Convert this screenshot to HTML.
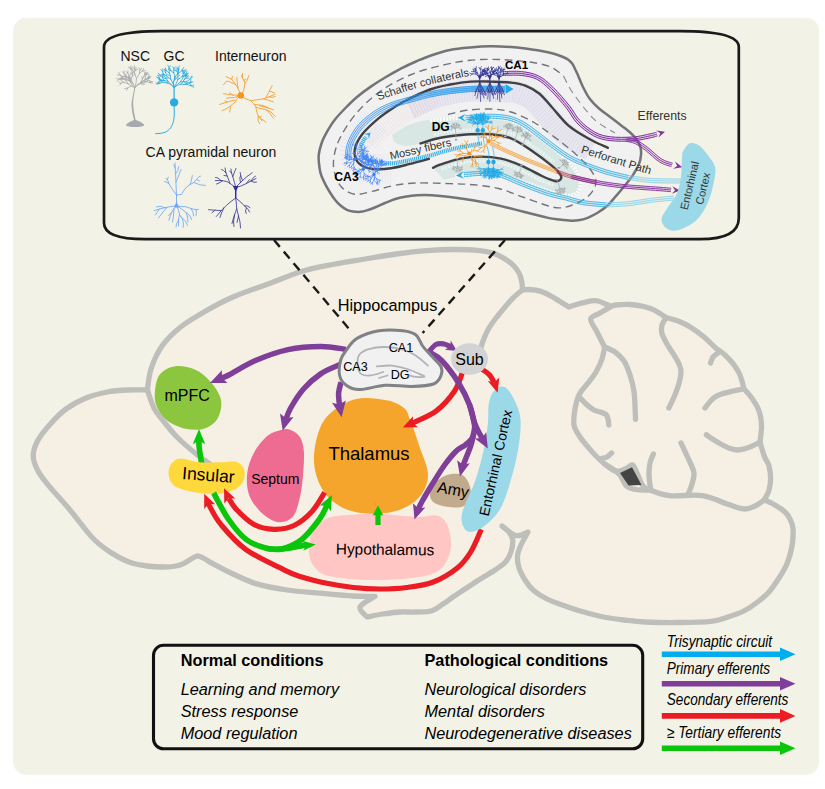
<!DOCTYPE html>
<html><head><meta charset="utf-8"><title>Hippocampal circuits</title><style>html,body{margin:0;padding:0;background:#fff;}body{width:825px;height:789px;overflow:hidden;font-family:"Liberation Sans",sans-serif;}svg{display:block;}</style></head><body>
<svg width="825" height="789" viewBox="0 0 825 789" font-family="'Liberation Sans', sans-serif"><rect x="13.2" y="17.8" width="805.8" height="757" rx="13" ry="13" fill="#f2f2e6"/>
<path d="M147.4 390C148 386.5 148.6 376.3 151 369C153.4 361.7 157.2 352.9 162 346C166.8 339.1 173 333.2 180 327.5C187 321.8 195.2 317.1 204 312C212.8 306.9 222.3 301.7 233 297C243.7 292.3 256.3 288.3 268 284C279.7 279.7 291.8 274.3 303 271C314.2 267.7 324.7 266 335 264C345.3 262 354.8 260.7 365 259C375.2 257.3 385.7 255.4 396 254C406.3 252.6 416.9 251.3 426.7 250.6C436.5 249.8 446.1 249.5 455 249.5C463.9 249.5 473.5 249.9 480 250.6C486.5 251.3 489.8 252.1 494 253.5C498.2 254.9 501.7 256.9 505 259C508.3 261.1 511.6 263.5 514 266C516.4 268.5 518.2 271.2 519.5 274C520.8 276.8 521.5 280.3 522 283C522.5 285.7 522.3 288.8 522.4 290C523.3 289.9 525.8 289.5 528 289.5C530.2 289.5 533.1 289.7 535.8 290.2C538.5 290.7 541.2 291.4 544 292.5C546.8 293.6 549.8 295.5 552.5 297C555.2 298.5 557.2 299.8 560 301.5C562.8 303.2 567.5 306.1 569 307C570.8 306.4 576.2 304.5 580 303.5C583.8 302.5 588.5 301.2 591.5 300.8C594.5 300.4 595.7 300.5 598 301C600.3 301.5 603.3 303.1 605.5 304C607.7 304.9 610.1 306.1 611 306.5C611.8 306.2 612.6 305.3 615.8 305C619 304.7 625.4 304.2 630 304.5C634.6 304.8 639.5 305.5 643.7 306.5C647.9 307.5 651.3 308.6 655 310.5C658.7 312.4 664.2 316.4 666 317.6C668 318.2 673.8 319.4 678 321C682.2 322.6 686.7 324.7 691 327.4C695.3 330.1 699.8 333.5 704 337C708.2 340.5 714 346.4 716 348.3C717.5 349.4 722.2 352.4 725 355C727.8 357.6 730.5 360.4 733 363.7C735.5 367 738.2 370.8 740 375C741.8 379.2 743.3 386.5 744 388.8C745.2 390.2 748.7 393.8 751 397C753.3 400.2 756.4 404.8 758 408.3C759.6 411.8 760.2 414.7 760.8 418C761.4 421.3 761.6 424 761.5 428C761.4 432 760.2 439.7 760 442C760.7 444.4 762.9 452.5 764.4 456.5C765.9 460.5 768 462.2 769 466C770 469.8 770.6 475 770.6 479C770.6 483 770 486.5 769 490C768 493.5 765.2 498.2 764.4 499.8C766.2 500.7 771.6 503 775 505C778.4 507 782.5 509.7 785 512C787.5 514.3 788.7 516.2 790 519C791.3 521.8 792.7 524.1 793 528.6C793.3 533.1 793 540.1 792 546C791 551.9 789.2 558.4 787 563.7C784.8 569 782.1 573.2 779 578C775.9 582.8 772.2 588.4 768.5 592.5C764.8 596.6 761.1 599.4 757 602.5C752.9 605.6 748.6 608.6 743.8 611C739 613.4 733.5 615.3 728 617C722.5 618.7 719.1 620.5 710.8 621.4C702.5 622.3 689 622.4 678 622.5C667 622.6 654 622.4 645 622C636 621.6 630.9 620.8 624 620C617.1 619.2 610.7 618.4 603.7 617C596.7 615.6 588.9 613.5 582 611.5C575.1 609.5 568.2 607.1 562.4 605C556.6 602.9 551.8 601.4 547 599C542.2 596.6 537.3 593.7 533.6 590.5C529.9 587.3 527.4 583.8 525 580C522.6 576.2 520.2 571.8 519 567.8C517.8 563.8 517.2 559.8 517.5 556C517.8 552.2 519.2 549 521 545C522.8 541 526.8 534.2 528 532C526 532.6 520.3 536.6 516 535.6C511.7 534.6 504.3 527.6 502 526C503.2 527 507.2 529.7 509 532C510.8 534.3 512.4 536.7 512.7 540C513 543.3 512.2 548.3 511 552C509.8 555.7 508.2 559 505.5 562C502.8 565 498.9 567.3 495 570C491.1 572.7 486.5 575.2 482 578C477.5 580.8 472.6 584 468 587C463.4 590 458.7 593.2 454.5 596C450.3 598.8 446.9 601.5 443 604C439.1 606.5 435.5 609.7 431 611C426.5 612.3 421.2 611.8 416 612C410.8 612.2 405.5 611.7 400 612C394.5 612.3 388.5 613.2 383 614C377.5 614.8 369.7 616.5 367 617C365.8 615.3 358.7 610.5 360 607C361.3 603.5 372.5 598.1 375 596.3C371.3 596.2 361.9 596.5 352.7 596C343.5 595.5 330.9 594.2 320 593.2C309.1 592.2 297.7 591.6 287 590C276.3 588.4 265 586.3 256 583.6C247 580.9 240.2 577.3 233 574C225.8 570.7 217.4 566.1 212.7 563.6C208 561.1 207.4 560.3 205 559C202.6 557.7 200.2 556.1 198 556C195.8 555.9 194.4 557.2 192 558.5C189.6 559.8 186.3 562.4 183.6 563.6C180.9 564.9 179 565.4 176 566C173 566.6 170.3 567 165.5 567C160.7 567 153.1 566.8 147 566C140.9 565.2 135.2 564.3 129 562C122.8 559.7 116 556 110 552C104 548 99.4 545 92.7 538C86 531 77.6 519.1 70 510C62.4 500.9 52.4 490.3 47 483.6C41.6 476.9 39.8 474.6 37.5 470C35.2 465.4 33.2 460.8 33.2 456C33.2 451.2 34.8 446.2 37.5 441C40.2 435.8 44.8 430.3 49.5 425C54.2 419.7 59.9 413.5 66 409C72.1 404.5 79.1 400.8 86 398C92.9 395.2 100.5 393.3 107.5 392C114.5 390.7 121.3 390.3 128 390C134.7 389.7 144.2 390 147.4 390Z" fill="#f5f0e3" stroke="#bebfbb" stroke-width="5.3" stroke-linejoin="round" stroke-linecap="round"/><path d="M522.4 290C520.8 291.3 515.9 295.2 513 298C510.1 300.8 507.8 303.7 505 307C502.2 310.3 498.8 314.3 496 318C493.2 321.7 490.6 325.2 488.4 329C486.2 332.8 484.4 337.2 483 341C481.6 344.8 480.5 349.8 480 351.5" fill="none" stroke="#bebfbb" stroke-width="5.3" stroke-linejoin="round" stroke-linecap="round"/><path d="M147.4 390C148.5 393 151.2 402.6 154 408C156.8 413.4 160.5 417.5 164.5 422.5C168.5 427.5 172.9 432.9 178 438C183.1 443.1 189.7 448.7 195 453C200.3 457.3 207.5 462.2 210 464" fill="none" stroke="#bebfbb" stroke-width="5.3" stroke-linejoin="round" stroke-linecap="round"/><path d="M611 306.5C609.2 307.6 603.4 310.9 600 313C596.6 315.1 591.2 315.8 590.7 319C590.2 322.2 594.7 327.3 597 332C599.3 336.7 603.3 344.5 604.6 347" fill="none" stroke="#bebfbb" stroke-width="5.3" stroke-linejoin="round" stroke-linecap="round"/><path d="M604.6 347C604.2 349 603.4 354.8 602 359C600.6 363.2 598.3 368 596 372C593.7 376 590.8 379.3 588 383C585.2 386.7 581.7 389.7 579.5 394C577.3 398.3 575.9 403.8 575 409C574.1 414.2 573.2 420.3 574 425C574.8 429.7 577.7 433.3 580 437C582.3 440.7 585.3 443.8 588 447C590.7 450.2 593.2 453.2 596 456C598.8 458.8 601.8 461.7 604.6 464C607.4 466.3 610.4 468.8 613 470C615.6 471.2 617.7 471.3 620 471C622.3 470.7 624.9 469 627 468C629.1 467 630.8 464.2 632.5 465C634.2 465.8 635.2 469.5 637 473C638.8 476.5 640.8 483.2 643 486C645.2 488.8 645.6 488.4 650 490C654.4 491.6 660.8 494.7 669.6 495.6C678.4 496.5 693 494.2 702.6 495.6C712.2 497 720.1 501.8 727 504C733.9 506.2 739.1 508.7 743.8 509C748.5 509.3 751.6 507.5 755 506C758.4 504.5 762.8 500.8 764.4 499.8" fill="none" stroke="#bebfbb" stroke-width="5.3" stroke-linejoin="round" stroke-linecap="round"/><path d="M604.6 347C606.3 347.8 611.8 349.7 615 352C618.2 354.3 621.5 357.2 624 361C626.5 364.8 628.3 369.9 630 375C631.7 380.1 633.2 386.3 634 391.5C634.8 396.7 634.8 401.4 635 406C635.2 410.6 635.4 417.2 635.5 419.4" fill="none" stroke="#bebfbb" stroke-width="5.3" stroke-linejoin="round" stroke-linecap="round"/><path d="M579.5 397C580.6 398.2 583.7 401.9 586 404C588.3 406.1 591.2 408.4 593.5 409.7C595.8 411 597.9 411.2 600 412C602.1 412.8 604.7 413.3 606 414.5C607.3 415.7 607.5 417.2 608 419C608.5 420.8 608.7 424 608.8 425" fill="none" stroke="#bebfbb" stroke-width="5.3" stroke-linejoin="round" stroke-linecap="round"/><path d="M666 317.6C665.3 318.8 662.7 322.4 662 325C661.3 327.6 661 329.8 661.8 333C662.6 336.2 665 340.3 667 344C669 347.7 672 351.7 674 355C676 358.3 677.8 361.2 679 364C680.2 366.8 681.1 368.5 681 372C680.9 375.5 679.7 380.8 678.5 385C677.3 389.2 675.6 393.2 674 397C672.4 400.8 669.7 406.2 668.8 408" fill="none" stroke="#bebfbb" stroke-width="5.3" stroke-linejoin="round" stroke-linecap="round"/><path d="M717.8 353C717 353.7 714.2 355.3 713 357C711.8 358.7 711 362 710.6 363" fill="none" stroke="#bebfbb" stroke-width="5.3" stroke-linejoin="round" stroke-linecap="round"/><path d="M744 388.8C742.2 389.2 736.7 390.1 733 391C729.3 391.9 724.7 393 721.7 394C718.7 395 716.9 395.8 715 397C713.1 398.2 712.3 399.2 710.6 401C708.9 402.8 705.9 406.8 705 408" fill="none" stroke="#bebfbb" stroke-width="5.3" stroke-linejoin="round" stroke-linecap="round"/><path d="M760 442C758.3 442.8 753.6 445.7 750 447C746.4 448.3 741.8 449.8 738.5 450C735.2 450.2 732.8 449.4 730 448.5C727.2 447.6 724.4 445.9 721.7 444.5C719 443.1 716.5 441.6 714 440C711.5 438.4 707.7 435.7 706.4 434.8" fill="none" stroke="#bebfbb" stroke-width="5.3" stroke-linejoin="round" stroke-linecap="round"/><path d="M681 443C682.2 445.5 685.9 453.1 688 458C690.1 462.9 693.2 468.1 693.9 472.4C694.6 476.7 693 480.3 692 484C691 487.7 688.7 492.9 688 494.7" fill="none" stroke="#bebfbb" stroke-width="5.3" stroke-linejoin="round" stroke-linecap="round"/><path d="M653.4 454C652.8 455.5 650.7 459.9 650 463C649.3 466.1 649.1 469.4 649 472.4C648.9 475.4 649.2 478.2 649.5 481C649.8 483.8 650.4 487.7 650.6 489" fill="none" stroke="#bebfbb" stroke-width="5.3" stroke-linejoin="round" stroke-linecap="round"/><path d="M601.8 458.5C602.7 458.2 605.4 457.9 607 457C608.6 456.1 610.8 453.7 611.6 453" fill="none" stroke="#bebfbb" stroke-width="5.3" stroke-linejoin="round" stroke-linecap="round"/><path d="M604.6 464C606.2 465 611.4 468.2 614 470C616.6 471.8 617.9 472.3 620 475C622.1 477.7 623.8 483.6 626.5 486C629.2 488.4 632.4 488.8 636 489.5C639.6 490.2 646 489.9 648 490" fill="none" stroke="#bebfbb" stroke-width="5.3" stroke-linejoin="round" stroke-linecap="round"/><path d="M620 473L632 467.3L641.5 485L628.5 485.5Z" fill="#444"/>
<path d="M104 47 C104 36 126 31.2 162 31.2 L680 31.2 C716 31.2 738.8 36 738.8 47 L738.8 218 C738.8 232 726 239.2 700 239.2 L145 239.2 C118 239.2 104 234 104 223 Z" fill="#f2f2e6" stroke="#1a1a1a" stroke-width="2.7"/>
<path d="M274 240L352.5 333" stroke="#1a1a1a" stroke-width="2.4" stroke-dasharray="9 6.2" fill="none"/>
<path d="M505 240L422.6 333" stroke="#1a1a1a" stroke-width="2.4" stroke-dasharray="9 6.2" fill="none"/>
<path d="M309 552.4C308.6 547.1 309.2 539.9 311.5 534.6C313.8 529.3 318.1 523.9 323 520.7C327.9 517.5 331.5 516.7 340.7 515.6C349.9 514.5 365.3 513.8 378 514C390.7 514.2 406.9 516.6 416.7 516.9C426.5 517.2 431.9 514.3 437 515.6C442.1 516.9 444.7 520.1 447 524.5C449.3 528.9 450.8 536.7 451 542.2C451.2 547.7 450.7 552.5 448.4 557.4C446.1 562.3 443.1 568.1 437 571.5C430.9 574.9 423.5 576.6 411.7 578C399.9 579.4 379.9 580.4 366 580C352.1 579.6 336.7 578 328 575.8C319.3 573.5 317.2 570.4 314 566.5C310.8 562.6 309.4 557.7 309 552.4Z" fill="#ffc6c4" />
<path d="M314 456C314.4 448.4 316.2 437.9 319 430.7C321.8 423.5 324.4 418.3 330.6 413C336.8 407.7 346.7 401.1 356 399C365.3 396.9 378.3 398.8 386.3 400.3C394.3 401.8 400 404.6 404 408C408 411.4 407.8 414.3 410.4 420.6C412.9 426.9 416.4 437.1 419.3 446C422.2 454.9 427.6 465.8 428 473.8C428.4 481.8 425.4 488.5 421.8 494C418.2 499.5 412.5 503.5 406.6 506.7C400.7 509.9 393.9 511.9 386.3 513C378.7 514 368.6 514 361 513C353.4 511.9 346.6 509.9 340.7 506.7C334.8 503.5 329.5 499.1 325.5 494C321.5 488.9 318.5 482.6 316.6 476.3C314.7 470 313.6 463.6 314 456Z" fill="#f5a52b" />
<path d="M154.8 393.3C155.2 388 156.2 379.5 159.4 375C162.6 370.5 168.3 367.3 174.2 366.4C180.1 365.5 188.7 366.8 194.8 369.4C200.9 372 206.3 376.9 210.7 382C215.1 387.1 219.8 393.9 221 400C222.2 406.1 220.4 413.6 217.6 418.4C214.8 423.2 209.2 427 203.9 428.7C198.6 430.4 191.7 430 185.6 428.7C179.5 427.4 172.2 424.3 167.4 420.7C162.6 417.1 159.1 411.6 157 407C154.9 402.4 154.4 398.6 154.8 393.3Z" fill="#8cc63f" />
<path d="M281.5 429.9C277.7 430.8 272.4 431.8 267.8 435.6C263.2 439.4 257.4 446.4 254 452.7C250.6 459 247.9 466.1 247.2 473.3C246.4 480.5 246.8 489.2 249.5 496C252.2 502.8 258.2 509.9 263.2 514.3C268.1 518.7 274.2 521.9 279.2 522.3C284.1 522.7 289.5 520.6 292.9 516.6C296.3 512.6 298 505.2 299.7 498.3C301.4 491.4 302.3 483.5 303 475.5C303.7 467.5 304.4 456.9 303.8 450.4C303.2 443.9 301.9 440.1 299.7 436.7C297.5 433.3 293.6 431 290.6 429.9C287.6 428.8 285.3 428.9 281.5 429.9Z" fill="#ee6b92" />
<path d="M430 495.3C430 492.1 431.7 487.4 434.5 484C437.3 480.6 442.4 476.5 447 475C451.6 473.5 458.6 473.1 462.4 475C466.2 476.9 468.7 482.5 470 486.5C471.3 490.5 471.3 495.6 470 499C468.7 502.4 466.2 505.4 462.4 506.7C458.6 508 451.6 507.3 447 506.7C442.4 506.1 437.3 504.9 434.5 503C431.7 501.1 430 498.5 430 495.3Z" fill="#c2ab8d" />
<path d="M481.3 529.3C479.5 533.1 474.7 545.5 470.7 552C466.7 558.5 463.5 563 457.3 568C451.1 573 441.7 578.8 433.3 582C424.9 585.2 415.6 586.3 406.7 587.5C397.8 588.7 388.9 589 380 589C371.1 589 362.2 588.5 353.3 587.5C344.4 586.5 335.6 585.1 326.7 583.3C317.8 581.5 307.1 578.8 300 576.5C292.9 574.2 293 574.3 284 569.8C275 565.3 256.6 557.2 246 549.6C235.4 542 226.9 531.6 220.7 524.2C214.5 516.8 211.1 508.5 209 505C206.9 501.5 208.3 503.3 208.1 503" fill="none" stroke="#ec1c24" stroke-width="5.2" stroke-linecap="butt" /><path d="M204.2 493.8L204.2 509L208.5 503.9L215.2 504.3Z" fill="#ec1c24" />
<path d="M489 402.5C490.2 396.7 492.2 392.6 494.8 390C497.4 387.4 501.4 385.4 504.6 387C507.9 388.6 511.6 394.4 514.3 399.7C516.9 405 519.8 411.1 520.5 419C521.2 426.9 520 437.2 518.5 447C517 456.8 514.5 467.6 511.5 477.8C508.5 488.1 505 500.4 500.4 508.5C495.8 516.6 488.8 522.7 483.7 526.6C478.6 530.5 473.2 532.3 469.7 532C466.2 531.7 463.9 528.5 462.7 525C461.5 521.5 460.6 518.4 462.7 511C464.8 503.6 471.8 490.8 475.3 480.6C478.8 470.4 481.6 459.3 483.7 450C485.8 440.7 486.9 432.7 487.8 424.8C488.7 416.9 487.8 408.3 489 402.5Z" fill="#9bd8e8" />
<path d="M201.7 464C201.4 462 200.2 455.1 199.8 452C199.4 448.9 199.1 447.6 199 445.6C198.9 443.6 199 440.9 199 440" fill="none" stroke="#0bc50b" stroke-width="5.6" stroke-linecap="butt" /><path d="M199 429L192.8 444L199 441L205.2 444Z" fill="#0bc50b" />
<path d="M168.5 473C168.5 469.6 169.9 465.4 172 463C174.1 460.6 176.4 458.5 181 458.4C185.6 458.3 192.8 461.6 199.3 462.3C205.8 463 213.8 462.4 219.9 462.3C226 462.2 231.8 460.8 235.8 461.8C239.8 462.9 242.5 465.6 243.8 468.6C245.1 471.6 245.1 476.6 243.8 480C242.5 483.4 239.8 486.7 235.8 489C231.8 491.3 225.6 493 219.9 493.7C214.2 494.4 208.1 494.1 201.6 493.3C195.1 492.5 185.9 490.6 181 489C176.1 487.4 174.1 486.3 172 483.6C169.9 480.9 168.5 476.4 168.5 473Z" fill="#ffd93b" />
<path d="M324.6 492.5C322.5 495.7 317.1 506 312 511.5C306.9 517 300.3 522.5 294 525.5C287.7 528.5 280.7 529.5 274 529.3C267.3 529.1 259.9 527.6 253.6 524.2C247.3 520.8 240.3 513.5 236 509C231.7 504.5 229.3 498.9 228 497C226.7 495.1 228.1 497.3 228.1 497.3" fill="none" stroke="#ec1c24" stroke-width="5.2" stroke-linecap="butt" /><path d="M224 488.2L224.3 503.4L228.6 498.2L235.3 498.5Z" fill="#ec1c24" />
<path d="M213.6 493C216.1 497.3 222.9 511.3 228.3 519C233.7 526.7 239.7 534.5 246 539.4C252.3 544.3 260.4 546.7 266.3 548.3C272.2 549.9 276.7 549.2 281.5 549C286.3 548.8 291.1 547.7 295 547C298.9 546.3 303.3 545.3 305 545" fill="none" stroke="#0bc50b" stroke-width="5.6"/>
<path d="M281.5 549C283.8 548.7 291.1 547.6 295 547C298.9 546.4 303 545.8 305 545.5C307 545.2 306.5 545.4 306.8 545.3" fill="none" stroke="#0bc50b" stroke-width="4.5" stroke-linecap="butt" /><path d="M315.8 544.5L302.4 540.7L305.8 545.4L303.3 550.7Z" fill="#0bc50b" />
<path d="M266.3 548.3C268.8 548.4 275.6 550.5 281.5 549C287.4 547.5 295.4 544.4 301.8 539.4C308.2 534.4 315.4 524.7 319.6 519C323.8 513.3 325.8 507.4 327 505C328.2 502.6 327.1 504.9 327.1 504.8" fill="none" stroke="#0bc50b" stroke-width="5.6" stroke-linecap="butt" /><path d="M332 495L319.7 505.6L326.6 505.7L330.9 511.2Z" fill="#0bc50b" />
<path d="M378 525C378 523.3 378 516.8 378 515C378 513.2 378 514.4 378 514.3" fill="none" stroke="#0bc50b" stroke-width="5.2" stroke-linecap="butt" /><path d="M378 505.3L372.8 515.3L378 515.3L383.2 515.3Z" fill="#0bc50b" />
<path d="M346 349.4C341.8 348.9 330.7 346.4 321 346.4C311.3 346.4 298.9 347.2 288 349.6C277.1 352 265.3 356.3 255.5 360.5C245.7 364.7 235 371.7 229.3 374.7C223.6 377.7 222.4 377.7 221 378.3" fill="none" stroke="#7f3f98" stroke-width="5.5" stroke-linecap="butt" /><path d="M210 383L227.5 383.1L221.9 377.9L221.9 370.2Z" fill="#7f3f98" />
<path d="M340 364.5C336.8 366 327.1 369.5 321 373.6C314.9 377.7 308.6 383.2 303.5 389C298.4 394.8 293.5 403 290.4 408.5C287.3 414 285.8 420.2 285 422C284.2 423.8 285.6 419.7 285.7 419.2" fill="none" stroke="#7f3f98" stroke-width="5.5" stroke-linecap="butt" /><path d="M282.7 430.8L293.5 417.1L286 418.2L280 413.5Z" fill="#7f3f98" />
<path d="M341 382C340.6 383.9 338.9 389.5 338.6 393.3C338.4 397.1 339.3 403 339.5 405C339.7 407 339.6 405.4 339.6 405.5" fill="none" stroke="#7f3f98" stroke-width="5.5" stroke-linecap="butt" /><path d="M341.6 417.3L345.8 400.4L339.4 404.5L332 402.7Z" fill="#7f3f98" />
<path d="M462.7 371.8C461.3 375.1 458.8 384.8 454.4 391.3C450 397.8 442.9 405.8 436.3 410.9C429.7 416 419.1 419.9 415 422C410.9 424.1 412.4 423.2 411.9 423.4" fill="none" stroke="#ec1c24" stroke-width="5.2" stroke-linecap="butt" /><path d="M402.8 427.6L418 427.2L412.8 423L413 416.3Z" fill="#ec1c24" />
<path d="M479.5 367.6C481.1 368.8 486.6 371.9 489.2 374.6C491.8 377.3 494.1 382.6 495 384C495.9 385.4 494.8 383.3 494.7 383.1" fill="none" stroke="#ec1c24" stroke-width="5.2" stroke-linecap="butt" /><path d="M497.6 392.7L499.3 377.6L494.5 382.2L487.8 381Z" fill="#ec1c24" />
<path d="M469.7 405.3C470.6 408.6 473.4 419.7 475.3 424.8C477.2 429.9 479.7 433.7 480.9 436C482.1 438.3 482.2 438.4 482.5 438.9" fill="none" stroke="#7f3f98" stroke-width="5.5" stroke-linecap="butt" /><path d="M487.8 448.5L486.2 432.2L482 438L474.9 438.5Z" fill="#7f3f98" />
<path d="M474 432C473.5 434.2 472.2 441.1 471 445C469.8 448.9 468.5 451.7 467 455.5C465.5 459.3 462.7 466.3 462 468C461.3 469.7 462.5 466.1 462.5 465.7" fill="none" stroke="#7f3f98" stroke-width="5.5" stroke-linecap="butt" /><path d="M460 476.4L469.8 463.3L462.8 464.7L457.2 460.3Z" fill="#7f3f98" />
<path d="M474.5 428C474.2 429.6 474 434.7 472.5 437.5C471 440.3 468.3 442.5 465.5 444.8C462.7 447.1 459.3 448.1 455.8 451.5C452.3 454.9 448.4 459.8 444.6 465C440.8 470.2 436.7 477 433 483C429.3 489 425 496.2 422.3 501C419.6 505.8 417.7 510.6 417 512C416.3 513.4 417.8 509.6 417.9 509.2" fill="none" stroke="#7f3f98" stroke-width="5.5" stroke-linecap="butt" /><path d="M414.5 519.6L425.4 507.4L418.2 508.2L413 503.3Z" fill="#7f3f98" />
<path d="M429 352C431.1 353.4 436.9 355.5 441.8 360.7C446.7 365.9 454 375.6 458.6 383C463.2 390.4 467.1 398.3 469.7 405.3C472.3 412.3 473.6 420.4 474.5 425C475.4 429.6 474.9 431.7 475 433" fill="none" stroke="#7f3f98" stroke-width="5.6"/>
<path d="M428.5 352C429.8 350.8 433.4 345.8 436 344.5C438.6 343.2 441.7 343.7 444 344C446.3 344.3 448.8 346 450 346.5C451.2 347 450.9 347.1 451.1 347.2" fill="none" stroke="#7f3f98" stroke-width="5.2" stroke-linecap="butt" /><path d="M457 351L450.7 340.4L450.3 346.7L444.8 349.7Z" fill="#7f3f98" />
<path d="M346.2 350.4C348.9 346.8 351.5 341.7 357 338.4C362.5 335.1 371.3 332 379 330.7C386.7 329.4 396.8 330 403 330.7C409.2 331.4 412.7 332.4 416 335C419.3 337.6 420.1 342.5 422.6 346C425.2 349.5 428.2 352.4 431.3 355.8C434.4 359.2 439.4 363.4 441 366.7C442.6 370 442.2 372.6 441 375.5C439.8 378.4 438.4 382.2 433.5 384C428.6 385.8 419.6 386.2 411.6 386.4C403.6 386.6 394.2 384.8 385.5 385.3C376.8 385.8 365.9 389.6 359.3 389.6C352.8 389.6 349.5 387.7 346.2 385.3C342.9 382.9 340.5 379.7 339.6 375.5C338.7 371.3 339.6 364.2 340.7 360C341.8 355.8 343.5 354 346.2 350.4Z" fill="#f1f1f2" stroke="#808285" stroke-width="3"/>
<path d="M428 365.6C426 364 420 358.4 416 355.8C412 353.2 409.1 351.5 404 350C398.9 348.5 391.5 347.1 385.5 347C379.5 346.9 372.4 348 368 349.3C363.6 350.6 361.1 352.2 359.3 354.7C357.6 357.1 357.3 360.9 357.5 364C357.7 367.1 358.3 371.4 360.4 373.3C362.5 375.2 366.2 375.7 370 375.5C373.8 375.3 381.1 372.6 383.3 372" fill="none" stroke="#b1b3b6" stroke-width="1.8" stroke-linecap="round"/>
<path d="M376.7 366.3C379.2 366.2 386.9 365.2 392 365.6C397.1 366.1 402.6 367.5 407.3 369C412 370.5 417.6 373.1 420.4 374.4C423.2 375.7 425 376.4 424.3 376.8C423.6 377.2 418.5 377 416 376.8C413.5 376.6 410.6 375.7 409.5 375.5" fill="none" stroke="#b1b3b6" stroke-width="1.8" stroke-linecap="round"/>
<path d="M379 378L387.6 375.5" fill="none" stroke="#b1b3b6" stroke-width="1.8" stroke-linecap="round"/>
<ellipse cx="469.5" cy="359" rx="18.5" ry="15.8" fill="#d1d3d4"/>
<text x="387.5" y="311" font-size="16.3" text-anchor="middle" font-weight="normal" font-style="normal" fill="#000" >Hippocampus</text>
<text x="401" y="351.5" font-size="12.6" text-anchor="middle" font-weight="normal" font-style="normal" fill="#000" >CA1</text>
<text x="355.5" y="371" font-size="12.6" text-anchor="middle" font-weight="normal" font-style="normal" fill="#000" >CA3</text>
<text x="400.2" y="379.4" font-size="12.6" text-anchor="middle" font-weight="normal" font-style="normal" fill="#000" >DG</text>
<text x="469.5" y="364.7" font-size="16" text-anchor="middle" font-weight="normal" font-style="normal" fill="#000" >Sub</text>
<text x="187.2" y="401.3" font-size="16" text-anchor="middle" font-weight="normal" font-style="normal" fill="#000" >mPFC</text>
<text x="208" y="481" font-size="17.5" text-anchor="middle" font-weight="normal" font-style="normal" fill="#000" transform="rotate(4.5 208 481)" >Insular</text>
<text x="275.3" y="483.5" font-size="14" text-anchor="middle" font-weight="normal" font-style="normal" fill="#000" >Septum</text>
<text x="369" y="460.2" font-size="18.5" text-anchor="middle" font-weight="normal" font-style="normal" fill="#000" >Thalamus</text>
<text x="385" y="554.8" font-size="15.4" text-anchor="middle" font-weight="normal" font-style="normal" fill="#000" transform="rotate(0.7 385 554.8)" >Hypothalamus</text>
<text x="452.2" y="495" font-size="16" text-anchor="middle" font-weight="normal" font-style="normal" fill="#000" transform="rotate(10 452.2 495)" >Amy</text>
<text x="500.4" y="464" font-size="14" text-anchor="middle" font-weight="normal" font-style="normal" fill="#000" transform="rotate(-77.4 500.4 464)" >Entorhinal Cortex</text>
<rect x="153.5" y="645.3" width="489.2" height="103.5" rx="10" ry="10" fill="none" stroke="#111" stroke-width="3.1"/>
<text x="180.7" y="665.6" font-size="16.3" text-anchor="start" font-weight="bold" font-style="normal" fill="#000" >Normal conditions</text>
<text x="180.7" y="694.7" font-size="16.3" text-anchor="start" font-weight="normal" font-style="italic" fill="#000" >Learning and memory</text>
<text x="180.7" y="717.2" font-size="16.3" text-anchor="start" font-weight="normal" font-style="italic" fill="#000" >Stress response</text>
<text x="180.7" y="739.2" font-size="16.3" text-anchor="start" font-weight="normal" font-style="italic" fill="#000" >Mood regulation</text>
<text x="424.5" y="665.6" font-size="16.3" text-anchor="start" font-weight="bold" font-style="normal" fill="#000" >Pathological conditions</text>
<text x="424.5" y="694.7" font-size="16.3" text-anchor="start" font-weight="normal" font-style="italic" fill="#000" >Neurological disorders</text>
<text x="424.5" y="717.2" font-size="16.3" text-anchor="start" font-weight="normal" font-style="italic" fill="#000" >Mental disorders</text>
<text x="424.5" y="739.2" font-size="16.3" text-anchor="start" font-weight="normal" font-style="italic" fill="#000" >Neurodegenerative diseases</text>
<path d="M661.8 651.4 H780 V647.4 L795.5 654.2 L780 661 V657 H661.8Z" fill="#00adee"/>
<path d="M661.8 681 H780 V677 L795.5 683.8 L780 690.6 V686.6 H661.8Z" fill="#7f3f98"/>
<path d="M661.8 713.1 H780 V709.1 L795.5 715.9 L780 722.7 V718.7 H661.8Z" fill="#ec1c24"/>
<path d="M661.8 745.4 H780 V741.4 L795.5 748.2 L780 755 V751 H661.8Z" fill="#0bc50b"/>
<text x="666.8" y="646.8" font-size="16.4" font-style="italic" textLength="105.4" lengthAdjust="spacingAndGlyphs">Trisynaptic circuit</text>
<text x="666.8" y="673.8" font-size="16.4" font-style="italic" textLength="103.2" lengthAdjust="spacingAndGlyphs">Primary efferents</text>
<text x="666.8" y="705.1" font-size="16.4" font-style="italic" textLength="121.6" lengthAdjust="spacingAndGlyphs">Secondary efferents</text>
<text x="666.8" y="738.1" font-size="16.4" font-style="italic" textLength="114.4" lengthAdjust="spacingAndGlyphs">≥ Tertiary efferents</text>
<path d="M318.7 155.5C319.1 151 320.6 146 322 142C323.4 138 325 135.1 327.2 131.3C329.4 127.6 332.1 123.2 335 119.5C337.9 115.8 340.8 112.8 344.5 109C348.2 105.2 352.6 100.7 357 97C361.4 93.3 366 89.9 370.8 86.6C375.6 83.3 380.9 80 386 77C391.1 74 396.3 71 401.3 68.4C406.3 65.8 410.9 63.7 416 61.5C421.1 59.3 426 57.1 431.7 55.2C437.4 53.3 443.6 51.3 450 50C456.4 48.7 463.3 48.1 470 47.5C476.7 46.9 483.2 46.4 490 46.3C496.8 46.2 504.8 46.6 511 47C517.2 47.4 521.9 48.1 527 48.8C532.1 49.5 537.2 50.2 541.5 51C545.8 51.8 549.6 52.6 553 53.5C556.4 54.4 559.3 55.5 561.8 56.5C564.3 57.5 566.2 58.2 568 59.5C569.8 60.8 571.2 62.2 572.5 64C573.8 65.8 574.5 68 575.5 70C576.5 72 577 73.2 578.3 76C579.5 78.8 581.1 83.2 583 87C584.9 90.8 587 95.2 589.7 98.8C592.4 102.4 595.6 105.5 599 108.5C602.4 111.5 606.7 114.3 610.2 117C613.7 119.7 616.6 121.8 620 124.5C623.4 127.2 627.9 130.4 630.7 133C633.5 135.6 635.4 137.6 637 140C638.6 142.4 639.8 144.8 640.5 147.3C641.2 149.8 641.2 152.2 641 155C640.8 157.8 640.3 160.7 639 164C637.7 167.3 635.4 171.3 633 175C630.6 178.7 627.3 182.5 624.5 186C621.7 189.5 618.8 192.8 616 196C613.2 199.2 610.6 202.8 607.6 205.5C604.6 208.2 601.2 210.5 598 212.5C594.8 214.5 591.2 216.3 588.2 217.6C585.2 218.8 582.8 219.5 580 220C577.2 220.5 574.7 220.8 571.2 220.7C567.7 220.6 563 220 559 219.5C555 219 553 218.9 547 217.6C541 216.3 530.8 213.5 522.7 211.5C514.6 209.5 506.6 207.3 498.5 205.5C490.4 203.7 482.3 202 474.2 200.6C466.1 199.2 457 197.9 450 197C443 196.1 437.6 195.6 432 195.3C426.4 195 421.2 195.1 416.7 195.3C412.2 195.6 408.6 196.2 405 196.8C401.4 197.4 398.6 198 395.3 199C392 200 388.2 201.7 385 203C381.8 204.3 378.8 205.8 376 207C373.2 208.2 370.6 209.2 368 210C365.4 210.8 362.9 211.6 360.4 211.8C357.9 212.1 355.2 211.8 353 211.5C350.8 211.2 349 210.8 346.9 209.8C344.8 208.8 342.4 207.1 340.5 205.5C338.6 203.9 336.9 202.2 335.2 200C333.4 197.8 331.6 195.1 330 192.5C328.4 189.9 326.9 187.3 325.5 184.6C324.1 181.8 322.5 178.6 321.5 176C320.5 173.4 320.2 172.4 319.7 169C319.2 165.6 318.3 160 318.7 155.5Z" fill="#f1f1f2" stroke="#737477" stroke-width="2.5"/>
<path d="M590.7 149.9C588.6 148.7 582.8 145.9 578 142.9C573.3 139.9 567.4 136.8 561.9 131.9C556.4 126.9 549.7 118.2 545 113C540.3 107.8 537.7 103.9 533.8 100.7C530 97.5 526 95.5 522 94C518.1 92.5 515.2 92.1 510 91.5C504.7 91 497 90.8 490.6 90.6C484.1 90.4 477.7 90.1 471.2 90.6C464.8 91 458.1 92.1 451.7 93.3C445.4 94.6 440.1 95.4 433.1 98C426.1 100.5 413.6 106.9 409.7 108.7" fill="none" stroke="#9a90d8" stroke-opacity="0.10" stroke-width="22" stroke-linecap="butt"/>
<path d="M590.7 149.9C588.6 148.7 582.8 145.9 578 142.9C573.3 139.9 567.4 136.8 561.9 131.9C556.4 126.9 549.7 118.2 545 113C540.3 107.8 537.7 103.9 533.8 100.7C530 97.5 526 95.5 522 94C518.1 92.5 515.2 92.1 510 91.5C504.7 91 497 90.8 490.6 90.6C484.1 90.4 477.7 90.1 471.2 90.6C464.8 91 458.1 92.1 451.7 93.3C445.4 94.6 440.1 95.4 433.1 98C426.1 100.5 413.6 106.9 409.7 108.7" fill="none" stroke="#8a80cc" stroke-opacity="0.16" stroke-width="22" stroke-dasharray="0.6 2.3"/>
<path d="M597.4 137.6C595.4 136.5 589.8 133.7 585.4 131.1C581.1 128.4 576.4 126.1 571.4 121.5C566.4 116.9 560.2 108.9 555.4 103.6C550.6 98.4 547.4 93.6 542.6 89.8C537.9 86 532.3 83 527.1 80.9C521.9 78.9 517.6 78.4 511.6 77.6C505.5 76.9 497.8 76.8 490.9 76.6C484 76.4 477.2 76.1 470.2 76.6C463.3 77.1 456 78.2 449 79.6C442.1 81 435.8 82.1 428.3 84.8C420.8 87.5 408 94.1 403.9 96" fill="none" stroke="#8a80cc" stroke-opacity="0.10" stroke-width="8" stroke-dasharray="0.6 2.3"/>
<path d="M434.2 98.6C430.2 100.4 416.8 106.2 410.5 109.4C404.2 112.6 401.1 114.7 396.4 117.8C391.6 121 386.7 124.4 382.2 128.4C377.6 132.3 371.3 139.3 369.1 141.5" fill="none" stroke="#f2a9a9" stroke-opacity="0.22" stroke-width="20" stroke-dasharray="0.7 1.9"/>
<path d="M375.6 120.8C373.3 123.1 365.4 129.9 362 134.5C358.6 139.1 356 144.1 355 148.2C354 152.3 354.5 155.8 355.9 158.9C357.3 162 360.2 164.8 363.5 166.5C366.8 168.2 371.1 168.9 375.6 169.2C380.2 169.5 388.3 168.5 390.8 168.3" fill="none" stroke="#6fa0ff" stroke-opacity="0.10" stroke-width="30" stroke-dasharray="0.8 1.7"/>
<path d="M392 135C395 133.2 403.7 127.1 410 124.5C416.3 121.9 423.3 120.7 430 119.5C436.7 118.3 443.2 117.8 450 117.3C456.8 116.8 463.8 116.5 470.6 116.3C477.4 116.1 484.1 115.8 490.8 116.3C497.5 116.8 504.2 116.7 511 119C517.8 121.3 524.6 125.7 531.4 130C538.2 134.3 545.8 140.3 551.7 145C557.6 149.7 562.6 153.5 567 158C571.4 162.5 575.5 167.7 578 172C580.5 176.3 581.9 180.5 582 184C582.1 187.5 580.3 190.8 578.5 193C576.7 195.2 574.1 196.5 571 197C567.9 197.5 564 196.8 560 196C556 195.2 553.2 194.1 547 192C540.8 189.9 530.8 186 522.7 183.6C514.6 181.2 506.6 178.8 498.5 177.6C490.4 176.4 481.2 176.5 474 176.4C466.8 176.3 460 176.6 455 177.2C450 177.8 445.8 179.5 444 180L433 167.8C434.2 167.3 435.4 166.2 440 164.7C444.6 163.2 453.6 159.9 460.4 158.6C467.2 157.2 473.9 156.6 480.7 156.6C487.5 156.6 494.2 157.1 501 158.6C507.8 160.1 514.5 162.8 521.3 165.7C528.1 168.6 536.4 173.4 542 176C547.6 178.6 551.9 180.4 555 181C558.1 181.6 559.6 180.6 560.5 179.5C561.4 178.4 561.8 176.8 560.3 174.5C558.8 172.2 556.5 169.7 551.7 165.7C546.9 161.7 538.2 155.1 531.4 150.5C524.6 145.9 517.8 141.1 511 138.4C504.2 135.7 497.5 135 490.8 134.3C484.1 133.6 477.4 134 470.6 134.3C463.8 134.6 455.9 135.5 450 136.3C444.1 137.1 439.9 137.8 435 139C430.1 140.2 425.5 142.2 420.5 143.4C415.5 144.6 409.4 146.2 405 146C400.6 145.8 395.8 142.7 394 142Z" fill="#d8e7e4"/>
<path d="M435 139C437.5 138.6 444.1 137.1 450 136.3C455.9 135.5 463.8 134.6 470.6 134.3C477.4 134 484.1 133.6 490.8 134.3C497.5 135 504.2 135.7 511 138.4C517.8 141.1 524.6 145.9 531.4 150.5C538.2 155.1 546.9 161.7 551.7 165.7C556.5 169.7 558.8 172.2 560.3 174.5C561.8 176.8 561.4 178.4 560.5 179.5C559.6 180.6 558.1 181.6 555 181C551.9 180.4 547.6 178.6 542 176C536.4 173.4 528.1 168.6 521.3 165.7C514.5 162.8 507.8 160.1 501 158.6C494.2 157.1 487.5 156.6 480.7 156.6C473.9 156.6 467.2 157.2 460.4 158.6C453.6 159.9 443.4 163.7 440 164.7Z" fill="#f0f1f1" stroke="#f0f1f1" stroke-width="2"/>
<path d="M430.2 121C433.5 120.6 443.4 119.3 450.1 118.8C456.9 118.3 463.9 118 470.6 117.8C477.4 117.6 484.1 117.4 490.7 117.8C497.3 118.2 503.9 118.2 510.5 120.4C517.2 122.7 523.9 127 530.6 131.3C537.3 135.6 544.9 141.5 550.8 146.2C556.7 150.8 561.6 154.6 565.9 159C570.2 163.5 574.3 168.6 576.7 172.7C579.1 176.9 580.4 180.8 580.5 184C580.6 187.2 579 190.1 577.4 192C575.7 193.9 573.6 195.1 570.8 195.5C567.9 195.9 564.2 195.4 560.3 194.5C556.4 193.7 553.7 192.6 547.5 190.6C541.3 188.5 531.3 184.6 523.1 182.2C515 179.8 506.9 177.3 498.7 176.1C490.5 174.9 481.3 175 474 174.9C466.7 174.8 458.1 175.6 454.9 175.7" fill="none" stroke="#fff" stroke-opacity="0.9" stroke-width="3.6" stroke-dasharray="2 1.2"/>
<path d="M434.2 134.6C436.7 134.1 443.4 132.6 449.4 131.8C455.4 131 463.4 130.1 470.4 129.8C477.4 129.5 484.2 129.1 491.3 129.8C498.3 130.6 505.6 131.4 512.7 134.2C519.8 137 527 142.1 533.9 146.8C540.9 151.4 551 159.5 554.4 162.1" fill="none" stroke="#fff" stroke-opacity="0.55" stroke-width="3" stroke-dasharray="2 1.2"/>
<path d="M553.4 185.2C551.2 184.3 545.8 182.7 540.1 180.1C534.5 177.5 526.2 172.7 519.5 169.8C512.9 167 506.5 164.4 500 163C493.5 161.5 487.2 161.1 480.7 161.1C474.2 161.1 467.8 161.7 461.3 163C454.7 164.3 444.6 168 441.3 169" fill="none" stroke="#fff" stroke-opacity="0.55" stroke-width="3" stroke-dasharray="2 1.2"/>
<path d="M448 114.5C451.1 113.8 459.4 111.2 466.5 110.3C473.6 109.4 483.4 108.7 490.8 109C498.2 109.3 504.2 110 511 112C517.8 114 526 118.2 531.4 121C536.8 123.8 538.6 125.4 543.6 129C548.6 132.6 556.1 138.2 561.5 142.4C566.9 146.7 571.5 150.4 576 154.5C580.5 158.6 585 162.6 588.2 166.7C591.5 170.8 594.5 175.2 595.5 178.8C596.5 182.4 595.8 185.3 594.2 188.5C592.6 191.7 589.6 195.4 585.8 198.2C582 201 575.7 203.9 571.2 205.5C566.7 207.1 563 207.9 559 207.9C555 207.9 553 207.3 547 205.5C541 203.7 530.8 199.8 522.7 197C514.6 194.2 506.6 190.5 498.5 188.5C490.4 186.5 482.3 185.6 474.2 184.8C466.1 184 459.6 183.9 450 183.6C440.4 183.3 426.1 182.7 416.7 183C407.3 183.3 400.8 184.2 393.4 185.6C385.9 187 378.5 189.9 372 191.4C365.5 192.9 359.8 195.1 354.6 194.3C349.4 193.5 344.4 190.4 341 186.5C337.6 182.6 335.3 176.2 334.2 171C333.1 165.8 333.2 161.1 334.2 155.5C335.2 149.9 336.7 144.4 340.4 137.3C344.1 130.2 349.8 120.8 356.6 113C363.4 105.2 371.9 97.1 381 90.7C390.1 84.3 401.3 78.7 411.4 74.5C421.5 70.3 432 67.8 441.8 65.4C451.6 63 460.3 61.3 470 60.3C479.7 59.3 489.8 59.2 500 59.5C510.2 59.8 522.8 61 531.4 62.3C540 63.6 546.3 65 551.7 67.4C557.1 69.8 561.8 75 563.8 76.5" fill="none" stroke="#747578" stroke-width="1.4" stroke-dasharray="7.6 4.8"/>
<path d="M563.8 76.5C565.4 79.5 568.6 87.1 573.7 94.2C578.8 101.3 587.4 112.8 594.2 119.3C601.1 125.8 611.4 130.7 614.8 133" fill="none" stroke="#85878a" stroke-width="1.1" stroke-dasharray="7 5"/>
<path d="M482 143.5C479.2 144 470.3 145.5 465 146.5C459.7 147.5 456 148.1 450 149.7C444 151.2 436.2 153.9 428.9 155.8C421.6 157.7 412.4 159.7 406 161C399.6 162.3 395.9 163.2 390.8 163.4C385.7 163.6 379.9 163 375.6 162C371.3 161 367.5 159.4 365 157.3C362.5 155.2 360.8 152.2 360.4 149.7C360 147.1 361.8 144.1 362.7 142C363.6 139.9 365.4 137.8 366 137" fill="none" stroke="#29abe2" stroke-width="4.2" stroke-dasharray="1.2 0.7" stroke-opacity="0.9"/>
<path d="M370.6 132.6L364.2 133.9L368.1 135L369 138.9Z" fill="#29abe2" />
<path d="M607.9 147.8C605.8 146.8 599.2 144.1 595 142C590.8 139.9 587.3 138.1 582.8 135.3C578.3 132.5 573.2 129.9 568 125.2C562.8 120.5 556.5 112.2 551.7 107C547 101.8 543.9 97.3 539.5 93.7C535.1 90.1 530 87.4 525.3 85.6C520.5 83.8 516.8 83.3 511 82.6C505.2 81.9 497.5 81.8 490.8 81.6C484.1 81.4 477.4 81.1 470.6 81.6C463.8 82.1 456.8 83.2 450 84.5C443.2 85.8 437.3 86.8 430 89.5C422.7 92.2 412.5 97.2 406 100.5C399.5 103.8 395.9 106.1 390.8 109.5C385.7 112.9 380.4 116.6 375.6 120.8C370.8 125 365.4 129.9 362 134.5C358.6 139.1 356 144.1 355 148.2C354 152.3 354.5 155.8 355.9 158.9C357.3 162 360.2 164.8 363.5 166.5C366.8 168.2 371.1 168.9 375.6 169.2C380.2 169.5 385.2 169.1 390.8 168.3C396.4 167.5 402.6 165.8 409 164.2C415.4 162.6 425.6 159.8 428.9 158.9" fill="none" stroke="#414042" stroke-width="2.4" stroke-linecap="round"/>
<path d="M420.5 143.4C422.9 142.7 430.1 140.2 435 139C439.9 137.8 444.1 137.1 450 136.3C455.9 135.5 463.8 134.6 470.6 134.3C477.4 134 484.1 133.6 490.8 134.3C497.5 135 504.2 135.7 511 138.4C517.8 141.1 524.6 145.9 531.4 150.5C538.2 155.1 546.9 161.7 551.7 165.7C556.5 169.7 558.8 172.2 560.3 174.5C561.8 176.8 561.4 178.4 560.5 179.5C559.6 180.6 558.1 181.6 555 181C551.9 180.4 547.6 178.6 542 176C536.4 173.4 528.1 168.6 521.3 165.7C514.5 162.8 507.8 160.1 501 158.6C494.2 157.1 487.5 156.6 480.7 156.6C473.9 156.6 467.2 157.2 460.4 158.6C453.6 159.9 444.6 163.2 440 164.7C435.4 166.2 434.2 167.3 433 167.8" fill="none" stroke="#414042" stroke-width="2.4" stroke-linecap="round"/>
<path d="M349 160C348.9 158.7 347.9 155.2 348.3 152C348.7 148.8 349.3 145 351.3 140.7C353.3 136.4 356.3 130.9 360.4 126.4C364.4 121.9 370.5 117 375.6 113.5C380.7 110 385.7 107.7 390.8 105.6C395.9 103.5 399.6 102.6 406 100.8C412.4 99 421.6 96.2 428.9 94.6C436.2 93 443.1 91.9 450 91C456.9 90.1 463.9 89.4 470.6 89C477.3 88.6 484.3 88.8 490 88.8C495.7 88.8 502.5 89 505 89" fill="none" stroke="#2f8df0" stroke-opacity="0.12" stroke-width="6.1" /><path d="M346.4 160.2C346.3 158.8 345.3 155.1 345.7 151.7C346.1 148.2 346.8 144.1 348.9 139.6C351.1 135.1 354.2 129.4 358.4 124.7C362.6 119.9 368.9 114.9 374.1 111.3C379.3 107.8 384.6 105.4 389.8 103.2C395 101 398.8 100.1 405.3 98.3C411.7 96.4 420.9 93.7 428.3 92C435.7 90.4 442.6 89.3 449.7 88.4C456.7 87.5 463.7 86.7 470.5 86.4C477.2 86 484.2 86.2 490 86.2C495.8 86.2 502.5 86.3 505 86.4" fill="none" stroke="#2f8df0" stroke-width="0.8" stroke-opacity="0.9" /><path d="M348.1 160.1C348 158.7 347 155.2 347.4 151.9C347.8 148.6 348.5 144.7 350.5 140.3C352.6 136 355.6 130.4 359.7 125.8C363.8 121.2 370 116.3 375.1 112.8C380.2 109.3 385.4 106.9 390.5 104.8C395.6 102.7 399.4 101.8 405.8 100C412.1 98.1 421.4 95.4 428.7 93.7C436.1 92.1 442.9 91.1 449.9 90.1C456.9 89.2 463.9 88.5 470.6 88.1C477.2 87.8 484.3 87.9 490 87.9C495.7 87.9 502.5 88.1 505 88.1" fill="none" stroke="#2f8df0" stroke-width="0.8" stroke-opacity="0.9" /><path d="M349.9 159.9C349.8 158.6 348.8 155.2 349.2 152.1C349.5 149 350.1 145.3 352.1 141.1C354.1 136.9 357.1 131.5 361.1 127C365.1 122.5 371.1 117.7 376.1 114.2C381.1 110.8 386.1 108.5 391.1 106.4C396.2 104.3 399.9 103.5 406.2 101.6C412.6 99.8 421.8 97.1 429.1 95.5C436.4 93.8 443.2 92.8 450.1 91.9C457 90.9 464 90.2 470.6 89.9C477.3 89.5 484.3 89.7 490 89.7C495.7 89.7 502.5 89.8 505 89.9" fill="none" stroke="#2f8df0" stroke-width="0.8" stroke-opacity="0.9" /><path d="M351.6 159.8C351.5 158.5 350.6 155.3 350.9 152.3C351.2 149.3 351.8 145.8 353.7 141.8C355.6 137.8 358.5 132.5 362.4 128.1C366.3 123.8 372.2 119 377.1 115.7C382 112.3 386.9 110.1 391.8 108C396.8 106 400.5 105.1 406.7 103.3C413 101.5 422.2 98.8 429.5 97.2C436.7 95.5 443.5 94.5 450.3 93.6C457.2 92.7 464.1 92 470.7 91.6C477.4 91.3 484.3 91.4 490 91.4C495.7 91.4 502.5 91.6 505 91.6" fill="none" stroke="#2f8df0" stroke-width="0.8" stroke-opacity="0.9" />
<path d="M390.8 105.6C393.3 104.8 399.6 102.6 406 100.8C412.4 99 421.6 96.2 428.9 94.6C436.2 93 443.1 91.9 450 91C456.9 90.1 463.9 89.4 470.6 89C477.3 88.6 484.3 88.8 490 88.8C495.7 88.8 502.5 89 505 89" fill="none" stroke="#1ea7ea" stroke-opacity="0.15" stroke-width="5.6"/>
<path d="M406 100.8C409.8 99.8 421.6 96.2 428.9 94.6C436.2 93 443.1 91.9 450 91C456.9 90.1 463.9 89.4 470.6 89C477.3 88.6 484.3 88.8 490 88.8C495.7 88.8 502.5 89 505 89" fill="none" stroke="#1ea7ea" stroke-opacity="0.15" stroke-width="5.6"/>
<path d="M428.9 94.6C432.4 94 443.1 91.9 450 91C456.9 90.1 463.9 89.4 470.6 89C477.3 88.6 484.3 88.8 490 88.8C495.7 88.8 502.5 89 505 89" fill="none" stroke="#1ea7ea" stroke-opacity="0.15" stroke-width="5.6"/>
<path d="M450 91C453.4 90.7 463.9 89.4 470.6 89C477.3 88.6 484.3 88.8 490 88.8C495.7 88.8 502.5 89 505 89" fill="none" stroke="#1ea7ea" stroke-opacity="0.15" stroke-width="5.6"/>
<path d="M470.6 89C473.8 89 484.3 88.8 490 88.8C495.7 88.8 502.5 89 505 89" fill="none" stroke="#1ea7ea" stroke-opacity="0.15" stroke-width="5.6"/>
<path d="M513.6 89L505.5 84.2L505.5 93.8Z" fill="#1ea7ea"/>
<path d="M465.5 117.8C466.9 117.7 469.8 117.3 474 117C478.2 116.7 485.4 116.1 491 116.2C496.6 116.3 502.8 116.7 507.9 117.8C513 118.9 517 120.6 521.5 123C526 125.4 530.2 128.7 535 132.2C539.8 135.7 544.9 140 550.3 144C555.7 148 561.9 152.8 567.3 156C572.7 159.2 576.4 160.9 582.8 163.5C589.2 166.1 598 169.5 605.6 171.8C613.2 174.1 624.6 176.6 628.4 177.5" fill="none" stroke="#29abe2" stroke-opacity="0.16" stroke-width="4.9" /><path d="M465.3 115.8C466.7 115.7 469.6 115.3 473.9 115C478.2 114.7 485.3 114.1 491 114.2C496.8 114.3 503.1 114.7 508.3 115.8C513.6 117 517.8 118.8 522.4 121.2C527.1 123.7 531.3 127.1 536.2 130.6C541 134.1 546.1 138.4 551.5 142.4C556.8 146.3 563 151.1 568.3 154.3C573.7 157.5 577.3 159.1 583.6 161.7C589.9 164.3 598.6 167.6 606.2 169.9C613.7 172.2 625.1 174.6 628.9 175.6" fill="none" stroke="#29abe2" stroke-width="0.9" stroke-opacity="0.85" /><path d="M465.5 117.8C466.9 117.7 469.8 117.3 474 117C478.2 116.7 485.4 116.1 491 116.2C496.6 116.3 502.8 116.7 507.9 117.8C513 118.9 517 120.6 521.5 123C526 125.4 530.2 128.7 535 132.2C539.8 135.7 544.9 140 550.3 144C555.7 148 561.9 152.8 567.3 156C572.7 159.2 576.4 160.9 582.8 163.5C589.2 166.1 598 169.5 605.6 171.8C613.2 174.1 624.6 176.6 628.4 177.5" fill="none" stroke="#29abe2" stroke-width="0.9" stroke-opacity="0.85" /><path d="M465.7 119.8C467.1 119.7 469.9 119.3 474.1 119C478.3 118.7 485.4 118.1 491 118.2C496.5 118.3 502.5 118.7 507.5 119.8C512.4 120.8 516.2 122.4 520.6 124.8C525 127.1 529.1 130.3 533.8 133.8C538.6 137.3 543.7 141.6 549.1 145.6C554.5 149.6 560.8 154.4 566.3 157.7C571.8 161 575.6 162.7 582 165.3C588.5 168 597.4 171.4 605 173.7C612.7 176.1 624.1 178.5 627.9 179.4" fill="none" stroke="#29abe2" stroke-width="0.9" stroke-opacity="0.85" />
<path d="M628.4 177.5C632.2 178 642.5 179.9 651.3 180.5C660.1 181.1 676 180.9 681 181" fill="none" stroke="#7fd0ee" stroke-opacity="0.16" stroke-width="4.9" /><path d="M628.7 175.5C632.5 176 642.7 177.9 651.4 178.5C660.2 179.1 676.1 178.9 681 179" fill="none" stroke="#7fd0ee" stroke-width="0.9" stroke-opacity="0.85" /><path d="M628.4 177.5C632.2 178 642.5 179.9 651.3 180.5C660.1 181.1 676 180.9 681 181" fill="none" stroke="#7fd0ee" stroke-width="0.9" stroke-opacity="0.85" /><path d="M628.1 179.5C632 180 642.4 181.9 651.2 182.5C660 183.1 676 182.9 681 183" fill="none" stroke="#7fd0ee" stroke-width="0.9" stroke-opacity="0.85" />
<path d="M457.6 117.8L465.6 121.5L462.6 117.8L465.6 114Z" fill="#29abe2" />
<path d="M463.8 174.7C466.9 174.5 476.5 173.3 482.4 173.3C488.3 173.3 493.7 173.3 499.4 174.7C505.1 176.1 510.8 179.2 516.4 181.5C522 183.8 527.6 186.1 533.3 188.2C538.9 190.3 544.6 192.5 550.3 194.2C556 195.9 561.9 197 567.3 198.4C572.7 199.8 576.4 201.5 582.8 202.6C589.2 203.7 601.8 204.5 605.6 204.9" fill="none" stroke="#29abe2" stroke-opacity="0.16" stroke-width="4.9" /><path d="M463.6 172.7C466.8 172.5 476.4 171.3 482.4 171.3C488.4 171.3 494.1 171.4 499.9 172.8C505.7 174.1 511.5 177.4 517.1 179.6C522.8 181.9 528.4 184.2 534 186.3C539.6 188.4 545.2 190.6 550.9 192.3C556.5 194 562.4 195.1 567.8 196.5C573.2 197.9 576.8 199.6 583.1 200.6C589.5 201.7 602 202.5 605.8 202.9" fill="none" stroke="#29abe2" stroke-width="0.9" stroke-opacity="0.85" /><path d="M463.8 174.7C466.9 174.5 476.5 173.3 482.4 173.3C488.3 173.3 493.7 173.3 499.4 174.7C505.1 176.1 510.8 179.2 516.4 181.5C522 183.8 527.6 186.1 533.3 188.2C538.9 190.3 544.6 192.5 550.3 194.2C556 195.9 561.9 197 567.3 198.4C572.7 199.8 576.4 201.5 582.8 202.6C589.2 203.7 601.8 204.5 605.6 204.9" fill="none" stroke="#29abe2" stroke-width="0.9" stroke-opacity="0.85" /><path d="M464 176.7C467 176.5 476.6 175.3 482.4 175.3C488.2 175.3 493.4 175.3 498.9 176.6C504.5 178 510 181.1 515.7 183.4C521.3 185.6 526.9 187.9 532.6 190.1C538.3 192.2 544 194.4 549.7 196.1C555.4 197.8 561.3 198.9 566.8 200.3C572.3 201.7 576 203.5 582.5 204.6C588.9 205.7 601.6 206.5 605.4 206.9" fill="none" stroke="#29abe2" stroke-width="0.9" stroke-opacity="0.85" />
<path d="M605.6 204.9C609.4 204.7 620.8 204.5 628.4 203.7C636 202.9 643.7 201.2 651.3 200.3C658.9 199.4 670.2 198.4 674 198" fill="none" stroke="#7fd0ee" stroke-opacity="0.16" stroke-width="4.9" /><path d="M605.5 202.9C609.3 202.7 620.6 202.5 628.2 201.7C635.8 200.9 643.5 199.3 651.1 198.3C658.7 197.4 670 196.4 673.8 196" fill="none" stroke="#7fd0ee" stroke-width="0.9" stroke-opacity="0.85" /><path d="M605.6 204.9C609.4 204.7 620.8 204.5 628.4 203.7C636 202.9 643.7 201.2 651.3 200.3C658.9 199.4 670.2 198.4 674 198" fill="none" stroke="#7fd0ee" stroke-width="0.9" stroke-opacity="0.85" /><path d="M605.7 206.9C609.5 206.7 621 206.5 628.6 205.7C636.2 204.9 643.9 203.2 651.5 202.3C659.1 201.3 670.4 200.4 674.2 200" fill="none" stroke="#7fd0ee" stroke-width="0.9" stroke-opacity="0.85" />
<path d="M455.8 175.4L464 178.7L460.8 175.2L463.6 171.3Z" fill="#29abe2" />
<path d="M489.5 142.5C491 143.3 493 144.7 498.5 147.3C504 149.9 514.6 154.8 522.7 158.2C530.8 161.6 541.3 165.7 547 167.9C552.7 170.1 555.1 170.9 556.7 171.5" fill="none" stroke="#f7941e" stroke-opacity="0.16" stroke-width="3.9" /><path d="M490.2 141.1C491.7 141.9 493.6 143.3 499.2 145.9C504.7 148.5 515.2 153.3 523.3 156.8C531.4 160.2 541.9 164.2 547.6 166.5C553.2 168.7 555.6 169.4 557.2 170" fill="none" stroke="#f7941e" stroke-width="0.8" stroke-opacity="0.85" /><path d="M489.5 142.5C491 143.3 493 144.7 498.5 147.3C504 149.9 514.6 154.8 522.7 158.2C530.8 161.6 541.3 165.7 547 167.9C552.7 170.1 555.1 170.9 556.7 171.5" fill="none" stroke="#f7941e" stroke-width="0.8" stroke-opacity="0.85" /><path d="M488.8 143.9C490.3 144.7 492.3 146.1 497.8 148.7C503.4 151.3 514 156.2 522.1 159.6C530.2 163.1 540.8 167.1 546.4 169.3C552.1 171.6 554.5 172.4 556.2 173" fill="none" stroke="#f7941e" stroke-width="0.8" stroke-opacity="0.85" />
<path d="M556.7 171.5C559.1 172.3 564.7 174.8 571.2 176.6C577.7 178.4 591.5 181.3 595.5 182.2" fill="none" stroke="#c0304a" stroke-opacity="0.16" stroke-width="3.9" /><path d="M557.2 170C559.6 170.9 565.2 173.3 571.6 175.1C578.1 176.9 591.8 179.8 595.8 180.7" fill="none" stroke="#c0304a" stroke-width="0.8" stroke-opacity="0.85" /><path d="M556.7 171.5C559.1 172.3 564.7 174.8 571.2 176.6C577.7 178.4 591.5 181.3 595.5 182.2" fill="none" stroke="#c0304a" stroke-width="0.8" stroke-opacity="0.85" /><path d="M556.2 173C558.6 173.8 564.3 176.3 570.8 178.1C577.3 179.9 591.1 182.8 595.2 183.7" fill="none" stroke="#c0304a" stroke-width="0.8" stroke-opacity="0.85" />
<path d="M571.2 176.6C575.2 177.5 587.4 180.7 595.5 182.2C603.6 183.7 612.3 184.9 619.7 185.8C627.1 186.7 633.3 187.1 640 187.6C646.7 188.1 654.8 188.6 660 189C665.2 189.4 669.2 189.8 671 190" fill="none" stroke="#8330a0" stroke-opacity="0.16" stroke-width="4.3" /><path d="M571.6 174.9C575.6 175.9 587.8 179 595.8 180.5C603.9 182.1 612.5 183.2 619.9 184.1C627.3 185 633.4 185.4 640.1 185.9C646.8 186.4 655 186.9 660.1 187.3C665.3 187.7 669.3 188.1 671.2 188.3" fill="none" stroke="#8330a0" stroke-width="0.9" stroke-opacity="1" /><path d="M571.2 176.6C575.2 177.5 587.4 180.7 595.5 182.2C603.6 183.7 612.3 184.9 619.7 185.8C627.1 186.7 633.3 187.1 640 187.6C646.7 188.1 654.8 188.6 660 189C665.2 189.4 669.2 189.8 671 190" fill="none" stroke="#8330a0" stroke-width="0.9" stroke-opacity="1" /><path d="M570.8 178.3C574.9 179.2 587.1 182.3 595.2 183.9C603.3 185.4 612 186.6 619.5 187.5C626.9 188.4 633.1 188.8 639.9 189.3C646.6 189.8 654.7 190.3 659.9 190.7C665 191.1 669 191.5 670.8 191.7" fill="none" stroke="#8330a0" stroke-width="0.9" stroke-opacity="1" />
<path d="M680 190.6L672.3 186.3L675.1 190.3L671.8 193.8Z" fill="#8330a0" />
<path d="M503 73.5C506.1 73.5 515.5 72.8 521.3 73.5C527 74.2 532.4 75 537.5 77.5C542.6 80 546.6 83.8 551.7 88.7C556.8 93.6 563.6 101.5 568 107C572.4 112.5 573.9 117.1 578.3 121.6C582.7 126.1 588.9 131.2 594.2 134C599.5 136.8 603.7 137.9 610.2 138.7C616.7 139.5 626.1 139.4 633 138.9C639.9 138.4 647.3 136.4 651.3 135.6C655.3 134.8 656 134.3 657 134" fill="none" stroke="#8330a0" stroke-opacity="0.16" stroke-width="4.8" /><path d="M503 71.6C506.1 71.6 515.6 70.9 521.5 71.6C527.4 72.3 533.1 73.2 538.3 75.8C543.6 78.4 547.8 82.3 553 87.3C558.2 92.3 565 100.3 569.5 105.8C573.9 111.3 575.4 115.9 579.7 120.3C583.9 124.7 590 129.6 595.1 132.3C600.2 135.1 604.1 136 610.4 136.8C616.7 137.6 626.1 137.5 632.9 137C639.6 136.5 647 134.5 650.9 133.7C654.9 132.9 655.6 132.4 656.5 132.2" fill="none" stroke="#8330a0" stroke-width="1" stroke-opacity="1" /><path d="M503 73.5C506.1 73.5 515.5 72.8 521.3 73.5C527 74.2 532.4 75 537.5 77.5C542.6 80 546.6 83.8 551.7 88.7C556.8 93.6 563.6 101.5 568 107C572.4 112.5 573.9 117.1 578.3 121.6C582.7 126.1 588.9 131.2 594.2 134C599.5 136.8 603.7 137.9 610.2 138.7C616.7 139.5 626.1 139.4 633 138.9C639.9 138.4 647.3 136.4 651.3 135.6C655.3 134.8 656 134.3 657 134" fill="none" stroke="#8330a0" stroke-width="1" stroke-opacity="1" /><path d="M503 75.4C506 75.4 515.5 74.8 521.1 75.4C526.7 76 531.8 76.8 536.7 79.2C541.5 81.6 545.4 85.2 550.4 90.1C555.4 94.9 562.1 102.7 566.5 108.2C570.9 113.7 572.5 118.3 576.9 122.9C581.4 127.5 587.8 132.7 593.3 135.7C598.8 138.6 603.3 139.7 610 140.6C616.6 141.4 626.2 141.3 633.1 140.8C640.1 140.3 647.6 138.3 651.7 137.5C655.7 136.6 656.5 136.1 657.5 135.8" fill="none" stroke="#8330a0" stroke-width="1" stroke-opacity="1" />
<path d="M665 131.7L656.2 130.5L660.3 133.2L658.5 137.6Z" fill="#8330a0" />
<path d="M626 139.5C627.7 139.9 632.5 140.4 636 142C639.5 143.6 642.6 145.9 646.7 149C650.8 152.1 656.2 157.7 660.4 160.4C664.6 163.1 670.1 164.2 672 165" fill="none" stroke="#8330a0" stroke-opacity="0.16" stroke-width="4.5" /><path d="M626.4 137.8C628.2 138.2 633.2 138.7 636.8 140.4C640.3 142 643.7 144.5 647.8 147.6C651.9 150.6 657.2 156.3 661.4 158.9C665.5 161.5 670.8 162.6 672.7 163.3" fill="none" stroke="#8330a0" stroke-width="0.9" stroke-opacity="1" /><path d="M626 139.5C627.7 139.9 632.5 140.4 636 142C639.5 143.6 642.6 145.9 646.7 149C650.8 152.1 656.2 157.7 660.4 160.4C664.6 163.1 670.1 164.2 672 165" fill="none" stroke="#8330a0" stroke-width="0.9" stroke-opacity="1" /><path d="M625.6 141.2C627.2 141.6 631.9 142.1 635.2 143.6C638.6 145.2 641.6 147.4 645.6 150.4C649.6 153.5 655.2 159.2 659.4 161.9C663.7 164.6 669.4 165.9 671.3 166.7" fill="none" stroke="#8330a0" stroke-width="0.9" stroke-opacity="1" />
<path d="M682.3 167.3L675 161.6L677.2 166L673.1 168.8Z" fill="#8330a0" />
<path d="M683.2 151.3C684.5 148.7 687.3 144.2 690 143.3C692.7 142.4 696.2 143.5 699.2 145.6C702.2 147.7 705.6 152.2 708.3 155.8C710.9 159.4 714.1 163 715.1 167.2C716.1 171.4 715.1 175.2 714 180.9C712.9 186.6 711.1 195 708.3 201.5C705.4 208 701.8 214.9 696.9 219.7C692 224.4 683.5 228.5 678.6 230C673.7 231.5 670.1 230.5 667.2 228.8C664.4 227.1 661.5 223.1 661.5 219.7C661.5 216.3 664.7 212.5 667.2 208.3C669.7 204.1 674.1 199.6 676.4 194.6C678.7 189.6 680 184.5 680.9 178.6C681.8 172.7 681.6 163.6 682 159C682.4 154.4 681.9 153.9 683.2 151.3Z" fill="#9bd8e8"/>
<text x="693.3" y="186.5" font-size="11" text-anchor="middle" font-weight="normal" font-style="normal" fill="#333" transform="rotate(-76.6 693.3 186.5)" >Entorhinal</text>
<text x="706.6" y="189.5" font-size="11" text-anchor="middle" font-weight="normal" font-style="normal" fill="#333" transform="rotate(-76.6 706.6 189.5)" >Cortex</text>
<path d="M456 139.9L455.9 134.2L455.4 128.6M455.4 128.6L454.1 128.2L452.8 127.9M452.8 127.9L452 128.4L451.3 129.1M451.3 129.1L451.5 129.7L451.6 130.3M451.3 129.1L450.8 129.5L450.3 129.8M452.8 127.9L452.1 127.5L451.5 127M451.5 127L451 126.8L450.4 126.8M451.5 127L451.2 126.5L451.2 125.9M454.1 128.2L453.7 127.6L453.3 127.1M455.4 128.6L454.8 127.4L453.9 126.3M453.9 126.3L453.1 126.1L452.2 126.1M452.2 126.1L451.7 126.5L451.3 127M452.2 126.1L451.7 125.7L451.2 125.3M453.9 126.3L453.7 125.4L453.3 124.6M453.3 124.6L452.8 124.3L452.2 124M453.3 124.6L453.7 124L454 123.4M454.8 127.4L454.1 127.2L453.5 127.1M455.4 128.6L455.2 127.2L455.3 125.9M455.3 125.9L454.7 125.2L454.2 124.4M454.2 124.4L453.7 124.2L453.2 123.8M454.2 124.4L454.4 123.7L454.5 123M455.3 125.9L455.7 125.1L456.4 124.6M456.4 124.6L456.8 124L456.9 123.4M456.4 124.6L457.1 124.5L457.7 124.6M455.4 128.6L456.3 127.5L456.6 126.2M456.6 126.2L456.6 125.2L456.5 124.2M456.5 124.2L455.8 123.8L455.5 123.1M456.5 124.2L456.6 123.5L456.8 122.8M456.6 126.2L457.4 125.8L458.1 125.2M458.1 125.2L458.3 124.6L458.4 124M458.1 125.2L458.9 125.1L459.6 125.2M455.4 128.6L456.6 128L457.9 127.5M457.9 127.5L458.5 126.8L459 126M459 126L459 125.4L459.2 124.8M459 126L459.6 125.7L460.3 125.5M457.9 127.5L459 127.7L460 128.1M460 128.1L460.6 127.9L461.2 127.9M460 128.1L460.3 128.9L460.8 129.6" fill="none" stroke="#a3a5a8" stroke-width="0.6" stroke-opacity="1" stroke-linecap="round" stroke-linejoin="round"/>
<ellipse cx="456" cy="139.9" rx="1.6" ry="0.8" fill="#a9abae"/>
<path d="M505.3 136.5L506.9 132.7L508 129M508 129L507.3 127.8L506.2 127M506.2 127L505.3 126.8L504.4 126.7M504.4 126.7L503.9 126.8L503.4 127M504.4 126.7L504.2 126.2L503.7 125.9M506.2 127L505.8 126.3L505.7 125.4M505.7 125.4L505.4 125.1L505.2 124.6M505.7 125.4L506 125L506.1 124.5M507.3 127.8L506.6 127.8L505.9 127.9M508 129L507.5 127.7L507.5 126.3M507.5 126.3L507 125.8L506.6 125.1M506.6 125.1L506.2 124.8L505.7 124.5M506.6 125.1L506.7 124.6L506.8 124.2M507.5 126.3L507.7 125.5L508.1 124.9M508.1 124.9L508 124.3L508 123.7M508.1 124.9L508.7 124.5L509.2 124.1M507.5 127.7L507 127.2L506.5 126.8M508 129L508.6 127.7L509.2 126.5M509.2 126.5L509.2 125.5L509.1 124.5M509.1 124.5L508.7 123.9L508.2 123.3M509.1 124.5L509.6 123.9L510.1 123.4M509.2 126.5L509.8 126L510.3 125.4M510.3 125.4L510.3 124.8L510.3 124.3M510.3 125.4L510.7 125.1L511.3 124.9M508 129L508.8 127.9L509.7 126.8M509.7 126.8L509.9 125.9L509.9 124.9M509.9 124.9L509.5 124.4L509.2 123.9M509.9 124.9L510.4 124.5L510.9 124.2M509.7 126.8L510.5 126.2L511.3 125.6M511.3 125.6L511.6 125L512.2 124.5M511.3 125.6L512 125.6L512.6 125.5M508 129L509.3 128.6L510.6 128.3M510.6 128.3L511.2 127.4L512.1 126.9M512.1 126.9L512.3 126.3L512.7 125.8M512.1 126.9L512.8 127.2L513.6 127.4M510.6 128.3L511.3 128.7L512.1 128.8M512.1 128.8L512.5 128.4L512.9 128.3M512.1 128.8L512.5 129L512.8 129.4M509.3 128.6L509.8 128.2L510.2 127.6" fill="none" stroke="#a3a5a8" stroke-width="0.6" stroke-opacity="1" stroke-linecap="round" stroke-linejoin="round"/>
<ellipse cx="505.3" cy="136.5" rx="1.6" ry="0.8" fill="#a9abae"/>
<path d="M514.7 140.7L516.3 136.3L517.4 132M517.4 132L516.3 131.1L515.1 130.5M515.1 130.5L514.3 130.4L513.4 130.4M513.4 130.4L512.9 130.9L512.3 131.3M513.4 130.4L512.8 130L512.3 129.6M515.1 130.5L514.3 129.8L513.8 128.8M513.8 128.8L513 128.7L512.2 128.6M513.8 128.8L513.8 128.2L513.9 127.6M517.4 132L517.2 130.6L517.1 129.3M517.1 129.3L516.4 128.7L515.9 127.9M515.9 127.9L515.4 127.6L514.8 127.5M515.9 127.9L515.9 127.3L515.7 126.7M517.1 129.3L517.6 128.6L517.8 127.8M517.8 127.8L517.7 127.2L517.7 126.5M517.8 127.8L518 127.4L518.3 127M517.4 132L517.4 130.6L517.9 129.4M517.9 129.4L517.9 128.3L517.6 127.2M517.6 127.2L517.2 126.7L516.6 126.3M517.6 127.2L517.9 126.6L518.1 126M517.9 129.4L518.3 128.7L519 128.3M519 128.3L519.1 127.9L519.3 127.5M519 128.3L519.4 128.3L519.8 128.4M517.4 132L518.2 130.9L519.2 130M519.2 130L519.8 129.2L520.3 128.3M520.3 128.3L520.3 127.7L520.3 127M520.3 128.3L520.9 127.9L521.5 127.6M519.2 130L520 129.8L520.9 129.7M520.9 129.7L521.4 129.4L521.9 128.9M520.9 129.7L521.4 129.7L521.8 130M517.4 132L518.7 132.2L520 131.6M520 131.6L520.5 131L521.1 130.3M521.1 130.3L521.1 129.9L521.2 129.4M521.1 130.3L521.7 130L522.3 129.9M520 131.6L520.8 131.5L521.6 131.6M521.6 131.6L522 131.3L522.5 131M521.6 131.6L522 131.9L522.5 132.1" fill="none" stroke="#a3a5a8" stroke-width="0.6" stroke-opacity="1" stroke-linecap="round" stroke-linejoin="round"/>
<ellipse cx="514.7" cy="140.7" rx="1.6" ry="0.8" fill="#a9abae"/>
<path d="M522.3 145L524.2 141.4L525.6 137.9M525.6 137.9L524.7 136.9L523.7 136M523.7 136L523 135.8L522.2 135.7M522.2 135.7L521.7 136.1L521.3 136.5M522.2 135.7L521.7 135.5L521.2 135.1M523.7 136L523.6 135.2L523.5 134.4M523.5 134.4L523.1 133.9L522.6 133.6M523.5 134.4L523.5 133.8L523.9 133.4M524.7 136.9L524.7 136.2L524.8 135.5M525.6 137.9L525.5 136.5L525.1 135.2M525.1 135.2L524.3 134.7L523.7 134M523.7 134L523.1 133.7L522.4 133.5M523.7 134L523.8 133.4L523.9 132.9M525.1 135.2L525.7 134.4L525.9 133.5M525.9 133.5L525.8 132.7L525.6 132M525.9 133.5L526.3 132.8L526.8 132.2M525.5 136.5L525.8 136L526.4 135.5M525.6 137.9L526.2 136.7L526.9 135.5M526.9 135.5L527 134.6L527.1 133.6M527.1 133.6L526.7 133L526.2 132.4M527.1 133.6L527.5 133.2L527.9 132.6M526.9 135.5L527.6 135.1L528.2 134.4M528.2 134.4L528.2 133.9L528.3 133.4M528.2 134.4L528.7 134L529.2 133.6M526.2 136.7L526.9 136.4L527.5 136.2M525.6 137.9L526.6 137L527.5 135.9M527.5 135.9L527.7 135L527.5 134.1M527.5 134.1L527.1 133.6L526.6 133.1M527.5 134.1L527.7 133.5L527.8 132.8M527.5 135.9L528.6 135.7L529.6 135.5M529.6 135.5L530.1 135.2L530.7 134.7M529.6 135.5L530.4 135.9L531.2 135.9M525.6 137.9L527 138L528.3 138.1M528.3 138.1L529 137.4L529.7 136.8M529.7 136.8L529.7 136.2L529.9 135.6M529.7 136.8L530.4 136.6L531 136.1M528.3 138.1L529.1 138.8L529.8 139.5M529.8 139.5L530.5 139.9L531.2 140.2M529.8 139.5L529.9 140.3L530.1 141.1M527 138L527.3 138.6L527.6 139.2" fill="none" stroke="#a3a5a8" stroke-width="0.6" stroke-opacity="1" stroke-linecap="round" stroke-linejoin="round"/>
<ellipse cx="522.3" cy="145" rx="1.6" ry="0.8" fill="#a9abae"/>
<path d="M457 158.5L457.6 162.5L457.6 166.4M457.6 166.4L458.8 167.1L460.1 167.5M460.1 167.5L460.9 167.5L461.7 167.1M461.7 167.1L461.8 166.7L462 166.3M461.7 167.1L462.2 167.3L462.7 167.2M460.1 167.5L460.8 168.3L461.5 169M461.5 169L462.1 169.2L462.7 169.5M461.5 169L461.4 169.7L461.4 170.3M457.6 166.4L458.2 167.7L459 168.7M459 168.7L459.8 169.1L460.7 169.3M460.7 169.3L461.4 169.2L462 169M460.7 169.3L461.1 169.7L461.7 170M459 168.7L459.4 169.5L459.6 170.2M459.6 170.2L460 170.6L460.5 170.8M459.6 170.2L459.7 170.9L459.8 171.5M457.6 166.4L457.8 167.8L458.1 169.1M458.1 169.1L458.8 169.8L459.5 170.5M459.5 170.5L460.1 170.6L460.6 170.9M459.5 170.5L459.8 171.2L459.9 171.9M458.1 169.1L458 170L457.7 171M457.7 171L457.9 171.7L458 172.4M457.7 171L457.3 171.4L456.8 171.8M457.8 167.8L457.3 168.2L456.8 168.7M457.6 166.4L457.3 167.8L456.5 168.8M456.5 168.8L456.6 169.8L456.3 170.7M456.3 170.7L456.2 171.4L456.3 172.1M456.3 170.7L455.7 171.1L455.1 171.4M456.5 168.8L455.6 169.2L454.6 169.3M454.6 169.3L454 169.7L453.4 170.1M454.6 169.3L454.1 169L453.5 168.8M457.6 166.4L456.4 167L455.1 167.4M455.1 167.4L454.2 167.9L453.3 168.5M453.3 168.5L453.2 169.1L452.7 169.6M453.3 168.5L452.6 168.7L451.9 168.9M455.1 167.4L454.3 167.1L453.4 166.9M453.4 166.9L452.9 167.1L452.5 167.5M453.4 166.9L452.8 166.6L452.4 166.1M456.4 167L455.7 167L455 167" fill="none" stroke="#a3a5a8" stroke-width="0.6" stroke-opacity="1" stroke-linecap="round" stroke-linejoin="round"/>
<ellipse cx="457" cy="158.5" rx="1.6" ry="0.8" fill="#a9abae"/>
<path d="M521.5 165.3L520.8 168.9L519.5 172.5M519.5 172.5L520.5 173.4L521.3 174.6M521.3 174.6L522 175L522.8 175.4M522.8 175.4L523.3 175.4L523.8 175.6M522.8 175.4L523 175.8L523.2 176.3M521.3 174.6L521.2 175.5L521.3 176.5M521.3 176.5L521.8 177.1L522 177.7M521.3 176.5L520.9 177.1L520.9 177.8M519.5 172.5L519.8 173.8L520.4 175M520.4 175L521.1 175.4L521.7 176M521.7 176L522.1 176.1L522.5 176.3M521.7 176L521.7 176.6L521.9 177.1M520.4 175L520.3 176.1L520.7 177.1M520.7 177.1L521.2 177.8L521.7 178.3M520.7 177.1L520.6 177.9L520.4 178.6M519.5 172.5L519.2 173.8L519.1 175.2M519.1 175.2L519.2 175.9L519.5 176.7M519.5 176.7L520 176.9L520.5 177.2M519.5 176.7L519.4 177.1L519.2 177.6M519.1 175.2L518.4 175.9L517.6 176.4M517.6 176.4L517.4 176.9L517.1 177.3M517.6 176.4L516.9 176.2L516.2 176.2M519.5 172.5L518.6 173.4L517.5 174.3M517.5 174.3L517.2 175.1L517.2 175.8M517.2 175.8L517.5 176.2L517.9 176.6M517.2 175.8L516.8 176.2L516.7 176.7M517.5 174.3L516.8 174.5L516 174.7M516 174.7L515.7 175.1L515.5 175.4M516 174.7L515.5 174.3L515 173.9M519.5 172.5L518.3 173L516.9 173M516.9 173L516 173.6L515.1 174.2M515.1 174.2L514.8 174.7L514.6 175.3M515.1 174.2L514.5 174.6L513.9 174.9M516.9 173L516.1 172.8L515.4 172.4M515.4 172.4L514.7 172.3L514.1 172.5M515.4 172.4L515.1 171.8L514.8 171.3M518.3 173L517.6 172.9L517 172.6" fill="none" stroke="#a3a5a8" stroke-width="0.6" stroke-opacity="1" stroke-linecap="round" stroke-linejoin="round"/>
<ellipse cx="521.5" cy="165.3" rx="1.6" ry="0.8" fill="#a9abae"/>
<path d="M558.8 167.9L561.1 166.4L563 164.8M563 164.8L563.1 163.5L562.6 162.2M562.6 162.2L561.7 161.7L561 160.9M561 160.9L560.4 160.4L559.7 160M561 160.9L560.9 160.3L560.7 159.6M562.6 162.2L562.6 161.4L562.9 160.6M562.9 160.6L562.8 160.1L562.6 159.6M562.9 160.6L563.2 160.3L563.5 160M563 164.8L563.5 163.5L564.1 162.4M564.1 162.4L564 161.5L564.1 160.6M564.1 160.6L563.8 160.1L563.4 159.7M564.1 160.6L564.4 160L565 159.6M564.1 162.4L564.8 161.6L565.8 161.3M565.8 161.3L566.2 160.9L566.5 160.4M565.8 161.3L566.4 161.4L566.9 161.6M563 164.8L563.9 163.8L564.8 162.7M564.8 162.7L564.7 161.7L564.7 160.7M564.7 160.7L564.3 160.2L564 159.7M564.7 160.7L565.1 160L565.4 159.3M564.8 162.7L565.8 162.7L566.9 162.8M566.9 162.8L567.4 162.5L567.9 162.1M566.9 162.8L567.6 163L568.3 163.3M563.9 163.8L564.5 163.8L565.2 163.8M563 164.8L564.3 164.5L565.7 164.3M565.7 164.3L566.5 163.7L567.1 163M567.1 163L567.2 162.3L567.2 161.6M567.1 163L567.6 162.8L568.2 162.7M565.7 164.3L566.5 164.4L567.4 164.6M567.4 164.6L568 164.6L568.5 164.4M567.4 164.6L567.8 164.9L568.2 165.1M563 164.8L564 165.7L565.3 166.3M565.3 166.3L566.1 166.1L566.8 165.8M566.8 165.8L567.3 165.4L567.7 164.9M566.8 165.8L567.5 165.7L568.1 165.9M565.3 166.3L565.8 167L566.4 167.6M566.4 167.6L567 167.9L567.7 167.9M566.4 167.6L566.7 168.3L566.9 169" fill="none" stroke="#a3a5a8" stroke-width="0.6" stroke-opacity="1" stroke-linecap="round" stroke-linejoin="round"/>
<ellipse cx="558.8" cy="167.9" rx="1.6" ry="0.8" fill="#a9abae"/>
<path d="M557 179.8L558.7 184.2L559.9 188.5M559.9 188.5L561.2 188.6L562.5 188.9M562.5 188.9L563.5 188.7L564.3 188.3M564.3 188.3L564.6 187.7L564.7 187.1M564.3 188.3L565 188.7L565.7 188.8M562.5 188.9L563.1 189.7L563.9 190.4M563.9 190.4L564.6 190.9L565.3 191.2M563.9 190.4L564.1 191L564.4 191.5M561.2 188.6L561.8 188.2L562.2 187.7M559.9 188.5L561.1 189.2L562.2 189.8M562.2 189.8L563.2 189.7L564 189.3M564 189.3L564.4 188.8L564.7 188.2M564 189.3L564.5 189.3L565 189.5M562.2 189.8L562.4 190.7L562.9 191.5M562.9 191.5L563.5 191.7L564.1 191.8M562.9 191.5L562.8 192.1L562.9 192.7M559.9 188.5L560.4 189.8L560.8 191.1M560.8 191.1L561.7 191.6L562.4 192.4M562.4 192.4L563.3 192.5L564.1 192.6M562.4 192.4L562.9 193L563.3 193.6M560.8 191.1L560.3 191.7L559.9 192.4M559.9 192.4L559.7 193L559.5 193.6M559.9 192.4L559.4 192.6L559 192.8M559.9 188.5L559.8 189.9L559.7 191.2M559.7 191.2L560.2 192.2L560.7 193.1M560.7 193.1L561.4 193.2L562.1 193.3M560.7 193.1L560.7 193.7L560.8 194.4M559.7 191.2L559.1 192.1L558.5 193M558.5 193L558.6 193.8L558.5 194.5M558.5 193L557.8 193.2L557.1 193.5M559.9 188.5L558.7 189.2L557.7 190.2M557.7 190.2L557.5 191.1L557.1 192.1M557.1 192.1L557.1 192.6L557.2 193.2M557.1 192.1L556.5 192.3L555.8 192.7M557.7 190.2L556.9 190.1L556 190.1M556 190.1L555.6 190.3L555.3 190.7M556 190.1L555.6 189.8L555.2 189.5M558.7 189.2L558.6 189.9L558.4 190.6" fill="none" stroke="#a3a5a8" stroke-width="0.6" stroke-opacity="1" stroke-linecap="round" stroke-linejoin="round"/>
<ellipse cx="557" cy="179.8" rx="1.6" ry="0.8" fill="#a9abae"/>
<path d="M477.7 130.2L477.7 125.7M477.7 124.2L475.4 123.8L473.3 123M473.3 123L471.6 122.8L469.9 122.5M469.9 122.5L468.7 122.5L467.5 122.9M469.9 122.5L469 121.8L468 121.4M473.3 123L471.8 121.6L470.8 119.9M470.8 119.9L469.8 119.1L468.6 118.4M470.8 119.9L470.4 118.5L470.3 117M475.4 123.8L475.1 122.7L474.6 121.7M477.7 124.2L475.9 122.7L474.1 121.4M474.1 121.4L472.4 121.2L470.7 120.8M470.7 120.8L469.6 120.8L468.6 121.1M470.7 120.8L469.7 120.4L468.9 119.7M474.1 121.4L473.1 120L472.2 118.5M472.2 118.5L471.1 117.5L469.9 116.6M472.2 118.5L472.1 116.9L471.9 115.4M477.7 124.2L475.8 122.8L474 121.4M474 121.4L472.6 120.8L471.2 120M471.2 120L470.1 119.9L469 119.7M471.2 120L470.4 119.2L470 118.2M474 121.4L473.6 119.9L473.4 118.4M473.4 118.4L472.9 117.2L472.1 116.2M473.4 118.4L473.6 117L474.2 115.8M475.8 122.8L475.3 121.8L474.7 120.9M477.7 124.2L477.4 121.9L476.1 120M476.1 120L474.8 118.7L473.3 117.7M473.3 117.7L471.9 116.8L470.7 115.8M473.3 117.7L472.7 116.1L471.7 114.9M476.1 120L475.7 118.4L475.9 116.8M475.9 116.8L475.5 115.8L475.1 114.8M475.9 116.8L476.5 115.6L476.5 114.3M477.7 124.2L477.7 121.9L476.8 119.8M476.8 119.8L475.3 118.4L473.4 117.7M473.4 117.7L472 118L470.5 118.1M473.4 117.7L472.1 116.9L470.9 116M476.8 119.8L476.7 118L476.1 116.2M476.1 116.2L475.3 115.3L474.6 114.2M476.1 116.2L476.8 115L476.9 113.6M477.7 121.9L476.9 121.1L476.1 120.3M477.7 124.2L478.4 122L478 119.7M478 119.7L477.5 117.8L476.6 116.1M476.6 116.1L475.2 115.3L473.9 114.3M476.6 116.1L476.8 114.8L476.6 113.6M478 119.7L478.6 118.3L479.2 116.8M479.2 116.8L479.2 115.6L479.4 114.4M479.2 116.8L480.3 116.2L481.3 115.3M477.7 124.2L478.8 122.2L479.8 120.1M479.8 120.1L480.5 118.5L481.1 116.8M481.1 116.8L480.6 115.5L480 114.3M481.1 116.8L482 115.9L483.1 115.3M479.8 120.1L480.8 118.9L482.1 118M482.1 118L482.9 116.9L483.6 115.8M482.1 118L483 117.5L483.9 117M478.8 122.2L478.7 121.1L478.5 119.9M477.7 124.2L479.4 122.6L480.2 120.5M480.2 120.5L480.2 118.5L479.4 116.7M479.4 116.7L478.3 115.7L477.4 114.6M479.4 116.7L479 115.2L478.8 113.7M480.2 120.5L481.5 119.3L482.6 117.9M482.6 117.9L483 116.5L483.3 115.1M482.6 117.9L483.5 117.2L484.3 116.3M477.7 124.2L479.1 122.4L480.9 120.9M480.9 120.9L481.7 119.3L482.4 117.6M482.4 117.6L482.2 116.4L482.2 115.2M482.4 117.6L483.2 116.7L484.2 116M480.9 120.9L482.5 120.4L484.2 120M484.2 120L485.1 119.2L485.7 118.2M484.2 120L485.6 120.1L486.9 120M477.7 124.2L479.8 123.4L481.7 122M481.7 122L482.7 120.3L483.1 118.3M483.1 118.3L482.8 116.7L483 115.1M483.1 118.3L483.5 117.1L483.8 115.9M481.7 122L483.2 121.9L484.7 121.6M484.7 121.6L485.7 121L486.8 120.5M484.7 121.6L485.7 121.7L486.7 121.8M477.7 130.2L478.2 138.2L479.2 145.2" fill="none" stroke="#1ea7ea" stroke-width="0.6" stroke-opacity="1" stroke-linecap="round" stroke-linejoin="round"/>
<circle cx="477.7" cy="130.2" r="2.2" fill="#1ea7ea"/>
<path d="M482.8 130.2L482.8 125.7M482.8 124.2L480.5 124.1L478.3 123.5M478.3 123.5L476.3 123.3L474.4 123.9M474.4 123.9L473.3 124.7L472.3 125.6M474.4 123.9L472.6 123.5L470.9 123.1M478.3 123.5L477 122.9L475.7 122.3M475.7 122.3L474.6 122.4L473.5 122.3M475.7 122.3L475.1 121.6L474.7 120.7M482.8 124.2L481.1 122.6L479.6 120.9M479.6 120.9L478.1 120.1L476.6 119.4M476.6 119.4L475.2 119.4L473.8 119.3M476.6 119.4L475.7 118.4L474.5 117.7M479.6 120.9L479.1 119L478.1 117.4M478.1 117.4L477 116.8L475.8 116.4M478.1 117.4L478.1 116.1L477.7 114.8M481.1 122.6L480 123L478.9 122.8M482.8 124.2L481.6 122.3L480.5 120.2M480.5 120.2L479.2 118.9L477.6 118M477.6 118L476.4 117.7L475.1 117.4M477.6 118L476.3 117.1L475.3 115.9M480.5 120.2L480.5 118.7L480.4 117.1M480.4 117.1L480 116L480 114.7M480.4 117.1L480.5 115.7L480.5 114.3M482.8 124.2L481.5 122.3L481 120M481 120L479.8 119L478.4 118.1M478.4 118.1L477 118.2L475.7 118.1M478.4 118.1L477.3 117.2L476.1 116.5M481 120L481.4 118.7L481 117.3M481 117.3L480.1 116.4L479.3 115.4M481 117.3L481.1 116.3L481.1 115.4M482.8 124.2L482.9 121.9L482.2 119.7M482.2 119.7L481 118.2L480.1 116.4M480.1 116.4L479 115.7L477.7 115.1M480.1 116.4L480.2 114.8L480.3 113.3M482.2 119.7L482.1 118.1L482 116.5M482 116.5L481.3 115.7L480.9 114.7M482 116.5L482.3 115.3L482.9 114.2M482.8 124.2L482.6 121.9L483.4 119.7M483.4 119.7L483.3 117.7L482.8 115.8M482.8 115.8L481.8 114.3L480.9 112.7M482.8 115.8L483.5 114.3L483.7 112.6M483.4 119.7L484.5 118.6L485.4 117.2M485.4 117.2L485.9 116.3L486.1 115.2M485.4 117.2L486.3 116.6L487.2 116.1M482.6 121.9L481.8 121.1L481.3 120M482.8 124.2L483 121.9L483.9 119.8M483.9 119.8L483.5 117.8L483.4 115.9M483.4 115.9L482.8 114.5L482.2 113.2M483.4 115.9L484.1 114.3L484.2 112.6M483.9 119.8L484.9 118.4L485.8 117M485.8 117L485.7 115.7L485.4 114.4M485.8 117L487.2 116.5L488.6 116M483 121.9L482.7 120.8L482.1 119.8M482.8 124.2L484.6 122.8L485.3 120.6M485.3 120.6L485.5 118.6L484.8 116.8M484.8 116.8L483.4 115.7L482 114.7M484.8 116.8L484.6 115.3L484.4 113.8M485.3 120.6L486 119.2L487.1 118.1M487.1 118.1L487.9 117.1L488.7 116.1M487.1 118.1L488.4 117.5L489.5 116.9M484.6 122.8L485.7 122.4L486.8 122.4M482.8 124.2L484.6 122.7L486.5 121.6M486.5 121.6L487.2 120.3L487.8 119M487.8 119L487.9 117.9L488.1 116.9M487.8 119L488.8 118.4L489.5 117.6M486.5 121.6L488.1 121.7L489.7 121.7M489.7 121.7L490.8 121.3L491.7 120.7M489.7 121.7L490.7 122L491.7 122.5M482.8 124.2L485 123.7L487 122.5M487 122.5L487.7 121.1L488.4 119.7M488.4 119.7L488.4 118.7L488.4 117.6M488.4 119.7L489.2 118.7L490 117.8M487 122.5L488.6 122.7L490.2 122.8M490.2 122.8L491.3 122.2L492.4 121.7M490.2 122.8L491.4 122.9L492.5 123.2M482.8 130.2L483.3 138.2L484.3 145.2" fill="none" stroke="#1ea7ea" stroke-width="0.6" stroke-opacity="1" stroke-linecap="round" stroke-linejoin="round"/>
<circle cx="482.8" cy="130.2" r="2.2" fill="#1ea7ea"/>
<path d="M488.4 162L488.4 166.5M488.4 168L490.5 168.8L492.7 169.7M492.7 169.7L494.7 170.1L496.7 170.3M496.7 170.3L498.3 170.3L499.8 170.4M496.7 170.3L497.9 171L499.1 171.5M492.7 169.7L493.6 170.9L494.8 171.8M494.8 171.8L496 172.4L497.3 172.8M494.8 171.8L495.7 172.5L496.5 173.3M488.4 168L490.5 168.9L492.2 170.4M492.2 170.4L493.7 171.3L495.4 171.5M495.4 171.5L496.6 170.8L497.9 170.2M495.4 171.5L496.5 172.2L497.6 172.9M492.2 170.4L493.2 171.8L493.7 173.4M493.7 173.4L494.3 174.3L495 175.2M493.7 173.4L493.8 174.5L493.8 175.7M488.4 168L489.9 169.8L491.6 171.3M491.6 171.3L493.4 171.5L495.3 171.2M495.3 171.2L496.6 170.9L497.5 170M495.3 171.2L496.6 171.7L498 171.8M491.6 171.3L492.4 172.5L493.1 173.9M493.1 173.9L494.2 174.3L495.1 175.1M493.1 173.9L493.5 175.1L494.1 176.2M489.9 169.8L489.8 170.9L489.8 172.1M488.4 168L489.3 170.1L490.8 171.9M490.8 171.9L492.2 172.7L493.7 173.4M493.7 173.4L494.8 173.6L495.9 173.7M493.7 173.4L494.7 174.3L495.7 175.1M490.8 171.9L491.3 173.7L492 175.4M492 175.4L493.4 176.4L494.6 177.5M492 175.4L491.8 176.8L491.6 178.2M488.4 168L488.8 170.3L489.3 172.5M489.3 172.5L490.6 174L491.4 175.7M491.4 175.7L492.8 176.5L494.2 177.3M491.4 175.7L491.5 177.1L491.5 178.6M489.3 172.5L488.7 174.4L489 176.2M489 176.2L489.3 177.6L489.5 178.9M489 176.2L489 177.7L488.6 179.1M488.8 170.3L489.9 170.7L490.8 171.5M488.4 168L488.3 170.3L488.1 172.6M488.1 172.6L488.7 174.1L489.1 175.6M489.1 175.6L489.9 176.4L490.6 177.3M489.1 175.6L489.4 176.9L489.7 178.3M488.1 172.6L486.7 174L485.9 175.7M485.9 175.7L486.1 177L486.1 178.3M485.9 175.7L485 176.9L483.7 177.8M488.3 170.3L489.2 171L490.1 171.8M488.4 168L488.3 170.3L488.1 172.6M488.1 172.6L489.3 174.2L489.7 176.2M489.7 176.2L490.8 177.7L491.8 179.2M489.7 176.2L489.4 177.5L489.2 178.8M488.1 172.6L487.9 174.1L487.5 175.5M487.5 175.5L488 176.5L488.1 177.6M487.5 175.5L486.4 176.2L485.3 177M488.4 168L487.5 170.1L486 171.8M486 171.8L485.5 173.4L485 174.9M485 174.9L485.2 176.1L485.2 177.3M485 174.9L484.5 176L484 177M486 171.8L484.3 172.5L482.6 173.2M482.6 173.2L481.3 174.1L480.1 175M482.6 173.2L481 173.2L479.4 172.9M487.5 170.1L487.9 171.2L488.7 172.1M488.4 168L486.9 169.7L485.1 171.2M485.1 171.2L484.4 173.1L483.9 175.1M483.9 175.1L484 176.6L484.4 178M483.9 175.1L482.8 176.2L481.7 177.3M485.1 171.2L483.5 171.7L482.2 172.8M482.2 172.8L481.2 174L480.3 175.1M482.2 172.8L481.2 173.1L480.2 173.5M488.4 168L486.1 168.3L483.9 168.8M483.9 168.8L482.3 169.1L481 170M481 170L480.5 170.9L479.8 171.7M481 170L479.6 169.8L478.3 169.4M483.9 168.8L482 168.7L480.1 168.3M480.1 168.3L478.5 168.5L476.9 168.8M480.1 168.3L479 167.1L477.6 166.4M486.1 168.3L485.7 169.3L485.1 170.3M488.4 162L488.9 154L487.4 147" fill="none" stroke="#1ea7ea" stroke-width="0.6" stroke-opacity="1" stroke-linecap="round" stroke-linejoin="round"/>
<circle cx="488.4" cy="162" r="2.2" fill="#1ea7ea"/>
<path d="M493.5 162L493.5 166.5M493.5 168L495.6 168.9L497.8 169.7M497.8 169.7L499.4 169.8L501 169.3M501 169.3L502.1 168.7L503.1 167.9M501 169.3L502 169.5L503 169.7M497.8 169.7L498.8 170.9L499.9 171.9M499.9 171.9L500.9 172L501.9 172.2M499.9 171.9L500.2 173.3L501.2 174.3M493.5 168L495 169.7L496.6 171.4M496.6 171.4L498.3 172.4L500.3 172.7M500.3 172.7L501.8 172.2L503.3 172.2M500.3 172.7L501.5 173.2L502.6 174M496.6 171.4L497.5 173L498.1 174.7M498.1 174.7L498.7 176.2L499.5 177.5M498.1 174.7L498.4 176L498.1 177.4M493.5 168L494.5 170L496 171.8M496 171.8L497.6 172.2L499 172.9M499 172.9L500.2 173L501.3 172.6M499 172.9L500.1 173.6L500.9 174.7M496 171.8L496.5 173.6L497.4 175.1M497.4 175.1L498.5 175.9L499.7 176.5M497.4 175.1L497.7 176.3L497.6 177.6M493.5 168L494.3 170.1L495.5 172.1M495.5 172.1L496.9 173.1L498.5 174M498.5 174L499.9 174L501.3 174.5M498.5 174L499.2 175.3L500.1 176.4M495.5 172.1L495 173.6L494.8 175M494.8 175L494.7 176.1L495 177.1M494.8 175L494.3 176.1L493.9 177.3M493.5 168L494 170.2L493.8 172.5M493.8 172.5L494 173.9L494.7 175.2M494.7 175.2L495.6 176L496.6 176.8M494.7 175.2L494.8 176.4L494.8 177.5M493.8 172.5L493.4 174.1L493 175.6M493 175.6L492.8 176.6L493 177.6M493 175.6L492.4 176.5L491.5 177.2M493.5 168L493.6 170.3L493.8 172.6M493.8 172.6L495.2 174.1L496.3 175.8M496.3 175.8L497.5 176.5L498.3 177.6M496.3 175.8L496.7 177.3L497.2 178.8M493.8 172.6L493.1 173.9L492.5 175.4M492.5 175.4L492.9 176.7L493.6 177.8M492.5 175.4L491.8 176.5L490.7 177.2M493.5 168L493 170.2L492.6 172.5M492.6 172.5L493.2 174.1L493.3 175.9M493.3 175.9L494.1 176.8L494.5 177.8M493.3 175.9L493 177.4L492 178.6M492.6 172.5L491.8 173.8L491.1 175.1M491.1 175.1L491.3 176.2L491.4 177.2M491.1 175.1L490.3 175.7L489.5 176.4M493 170.2L492 170.9L491.4 171.9M493.5 168L492.3 170L490.8 171.7M490.8 171.7L490.5 173.3L490.4 174.9M490.4 174.9L491 176.1L491.4 177.3M490.4 174.9L490 176.2L489.5 177.5M490.8 171.7L489.4 172.2L488 172.8M488 172.8L487.7 173.7L487.1 174.6M488 172.8L486.9 173.2L485.7 173.2M492.3 170L492.5 171.1L492.3 172.2M493.5 168L491.4 168.9L489.4 170.1M489.4 170.1L488.8 171.8L487.6 173.2M487.6 173.2L487.4 174.5L486.8 175.7M487.6 173.2L486.1 173.8L484.6 174.4M489.4 170.1L487.6 170.1L485.7 169.9M485.7 169.9L484.5 170.5L483.2 170.6M485.7 169.9L484.6 169.4L483.5 169M491.4 168.9L491.1 170L490.7 171.1M493.5 168L491.4 168.9L489.1 169.2M489.1 169.2L487.6 170.4L486.1 171.7M486.1 171.7L485.3 172.9L484.3 174M486.1 171.7L484.6 172.3L483.1 172.9M489.1 169.2L487.5 169.1L486 169.4M486 169.4L484.9 169.9L483.9 170.5M486 169.4L484.9 169.7L483.7 169.8M493.5 162L494 154L492.5 147" fill="none" stroke="#1ea7ea" stroke-width="0.6" stroke-opacity="1" stroke-linecap="round" stroke-linejoin="round"/>
<circle cx="493.5" cy="162" r="2.2" fill="#1ea7ea"/>
<path d="M488.4 141.2L491.6 138.9L495 136.7M495 136.7L496 133.8L497.8 131.3M497.8 131.3L497.8 129L498 126.7M497.8 131.3L499.9 130.5L502 129.6M495 136.7L497.7 136.9L500.5 136.8M500.5 136.8L502.2 136.1L503.6 134.8M500.5 136.8L502.4 137.5L504.1 138.8M491.6 138.9L491.8 136.9L492.4 134.9M488.4 141.2L489.6 137.6L489.8 133.9M489.8 133.9L489 131.2L488.2 128.5M488.2 128.5L486.8 127.5L485.8 126.1M488.2 128.5L488.3 126.9L488.6 125.3M489.8 133.9L490.8 131.4L491.9 129M491.9 129L492 127.5L492.2 125.9M491.9 129L493.5 128.7L495.1 128.3M489.6 137.6L490.9 136.3L492.5 135.3M488.4 141.2L491.3 140.3L494.3 140.5M494.3 140.5L495.7 139.2L497.1 137.7M497.1 137.7L497 136.3L497.2 134.9M497.1 137.7L498.1 137.3L499.1 136.9M494.3 140.5L496.1 141.5L497.8 142.7M497.8 142.7L499.4 142.9L501 143.4M497.8 142.7L498.3 143.9L498.8 145.2M488.4 141.2L486.7 139.4L485 137.5M485 137.5L483.3 137.1L481.6 136.9M481.6 136.9L480.5 137.5L479.4 138M481.6 136.9L480.5 136.2L479.3 135.6M485 137.5L484.9 135.9L484.6 134.3M484.6 134.3L484 133.4L483.1 132.9M484.6 134.3L484.9 133.3L485.1 132.2M486.7 139.4L486.7 138.1L486.3 137M488.4 141.2L486.8 143.7L484.9 146.1M484.9 146.1L484.4 148.2L483.8 150.2M483.8 150.2L483.9 151.5L484.3 152.7M483.8 150.2L482.5 151.4L481 152.2M484.9 146.1L483.1 147L481.2 147.7M481.2 147.7L480.2 148.7L479.1 149.6M481.2 147.7L479.7 147.6L478.4 147M486.8 143.7L486.8 145.2L486.8 146.7M469.2 153.5L466.2 153.5L463.2 153.3M463.2 153.3L460.9 153.9L458.7 154.9M458.7 154.9L457.2 155.7L456.3 157M458.7 154.9L456.8 154.9L454.9 154.6M463.2 153.3L462.1 152L460.7 151M460.7 151L459.3 151.1L458 151.2M460.7 151L460 150.1L459.3 149.2M469.2 153.5L467.6 151L466.2 148.3M466.2 148.3L464.5 147.3L463.1 146.1M463.1 146.1L461.8 145.6L460.5 145.2M463.1 146.1L462.9 144.7L462.5 143.5M466.2 148.3L466.2 146L466.3 143.6M466.3 143.6L465.6 141.9L464.3 140.5M466.3 143.6L467 142.1L468 140.7M469.2 153.5L471.5 156.5L472.7 160M472.7 160L474.7 161.5L476.1 163.7M476.1 163.7L477.6 164L478.9 164.8M476.1 163.7L476 165.3L476 166.9M472.7 160L472.7 162.3L472.4 164.6M472.4 164.6L472.7 165.9L473 167.1M472.4 164.6L471.5 165.6L471 166.9M471.5 156.5L471.9 158.3L471.6 160.2M469.2 153.5L472 155.2L474.8 156.8M474.8 156.8L477 156.5L479.2 156.1M479.2 156.1L480.4 155.6L481.5 155.2M479.2 156.1L480.6 156.3L481.9 156.7M474.8 156.8L475.1 158.9L475.6 161M475.6 161L476.6 161.9L477.6 163M475.6 161L475.4 162.3L475 163.6M469.2 153.5L471.2 152L473.3 150.6M473.3 150.6L473.9 149.3L474.5 148M474.5 148L474.8 146.9L474.8 145.8M474.5 148L475.4 147.3L476.2 146.6M473.3 150.6L475.1 150.8L477 150.7M477 150.7L478.3 150.2L479.4 149.4M477 150.7L478 151.2L478.9 151.7M471.2 152L471.4 150.8L471.6 149.5M469.2 153.5L467.1 154.8L464.8 155.8M464.8 155.8L463.7 157.3L462.8 158.9M462.8 158.9L462.9 160.4L462.8 161.9M462.8 158.9L461.9 159.8L460.8 160.6M464.8 155.8L462.9 155.7L461.1 155.1M461.1 155.1L459.8 155.6L458.6 156.2M461.1 155.1L460.3 154.3L459.6 153.4" fill="none" stroke="#f7941e" stroke-width="0.7" stroke-opacity="1" stroke-linecap="round" stroke-linejoin="round"/>
<circle cx="488.4" cy="141.2" r="2" fill="#f7941e"/><circle cx="469.2" cy="153.5" r="2" fill="#f7941e"/>
<path d="M479.7 77L477.7 75.6L475.9 74.1M475.9 74.1L474.1 73.9L472.3 73.9M472.3 73.9L471.5 74.8L470.5 75.5M472.3 73.9L471 73.6L469.8 73M475.9 74.1L475.8 72.4L475.3 70.9M475.3 70.9L474.3 70L473.4 69M475.3 70.9L475.3 69.6L475.5 68.4M477.7 75.6L477.3 74.5L477.3 73.3M479.7 77L479.1 74.7L477.4 72.9M477.4 72.9L475.7 72.3L473.9 71.7M473.9 71.7L472.8 71.6L471.6 71.5M473.9 71.7L473.6 70.5L473 69.4M477.4 72.9L476.7 71.1L475.9 69.4M475.9 69.4L474.8 68.8L474 67.9M475.9 69.4L476.2 68L476.3 66.6M479.7 77L480.2 74.7L480.9 72.4M480.9 72.4L480.6 70.6L480.2 68.9M480.2 68.9L479.4 68.3L478.9 67.3M480.2 68.9L480.7 67.7L481.4 66.6M480.9 72.4L482.6 71.9L484 70.8M484 70.8L484.4 69.9L484.7 69M484 70.8L485.3 71L486.6 70.9M480.2 74.7L481.3 74.1L482.4 73.6M479.7 77L481 75L482.6 73.2M482.6 73.2L482.6 71.8L482.8 70.5M482.8 70.5L482.5 69.5L481.8 68.8M482.8 70.5L483.4 69.7L484 69M482.6 73.2L484.2 73.2L485.9 72.8M485.9 72.8L486.4 71.8L487.2 70.9M485.9 72.8L487 73.1L488.1 73.6M479.7 77L481.4 75.3L483.6 74.2M483.6 74.2L484.5 72.6L485.4 70.9M485.4 70.9L485 69.5L485 68M485.4 70.9L486.3 69.9L487.5 69.3M483.6 74.2L485.1 73.8L486.7 73.7M486.7 73.7L487.6 73.2L488.6 73M486.7 73.7L487.5 74.2L488.2 74.8M481.4 75.3L482.6 75.4L483.8 75.7M479.7 77L479.7 83M479.7 82.5L477.2 88.2L474.8 95.7M477.2 88.2L475 92.7M479.7 82.5L478.6 89.8L477 98.5M478.6 89.8L480.8 94.3M479.7 82.5L480.1 90.4L480.6 101.6M480.1 90.4L482.3 94.9M479.7 82.5L481.3 89.4L484 97.9M481.3 89.4L483.5 93.9M479.7 82.5L482.4 87.8L486 95.7M482.4 87.8L484.6 92.3" fill="none" stroke="#2e3192" stroke-width="0.7" stroke-opacity="1" stroke-linecap="round" stroke-linejoin="round"/>
<path d="M477.6 75.6L481.8 75.6L479.7 80.2Z" fill="#2e3192"/>
<path d="M489.8 77L487.8 75.7L485.7 74.6M485.7 74.6L484.2 74.6L482.7 74.7M482.7 74.7L482.1 75.5L481.4 76.1M482.7 74.7L481.9 74.3L481.3 73.7M485.7 74.6L484.7 73.1L483.9 71.5M483.9 71.5L482.7 70.8L481.6 70M483.9 71.5L484 70.3L484.1 69.2M487.8 75.7L486.6 76.1L485.5 76.5M489.8 77L488.2 75.3L487.1 73.1M487.1 73.1L485.9 72L484.4 71.5M484.4 71.5L483.3 71.6L482.2 71.6M484.4 71.5L483.9 70.7L483.2 70M487.1 73.1L487.2 71.6L487.7 70.2M487.7 70.2L487.4 69.1L487.3 68M487.7 70.2L488.5 69.5L489.4 68.9M489.8 77L490.3 74.7L490.3 72.3M490.3 72.3L489.3 70.7L488.2 69.2M488.2 69.2L487.4 68.6L486.4 68.3M488.2 69.2L488.4 68.1L488.5 67M490.3 72.3L491 70.7L491.9 69.2M491.9 69.2L491.7 67.9L491.6 66.6M491.9 69.2L492.9 68.3L493.7 67.3M489.8 77L491.2 75L492.4 72.9M492.4 72.9L491.9 71.2L491.7 69.3M491.7 69.3L491.3 68.3L490.8 67.3M491.7 69.3L492.6 68.4L493.1 67.3M492.4 72.9L493.9 72.3L495 71.3M495 71.3L495.4 70.2L495.3 69.1M495 71.3L496.1 70.8L497.1 70.3M489.8 77L491.4 75.2L493.3 73.7M493.3 73.7L494.1 72.3L494.8 70.9M494.8 70.9L494.7 69.7L494.9 68.6M494.8 70.9L495.6 70.4L496.4 70M493.3 73.7L494.7 73.5L496.2 73.3M496.2 73.3L496.9 72.7L497.4 72M496.2 73.3L497.1 73.5L498.1 73.8M489.8 77L489.8 83M489.8 82.5L487.3 88.2L484.5 94.8M487.3 88.2L489.5 92.7M489.8 82.5L488.7 89.8L487.7 99M488.7 89.8L486.5 94.3M489.8 82.5L490.2 90.4L489.9 101.4M490.2 90.4L492.4 94.9M489.8 82.5L491.4 89.4L493.7 98.4M491.4 89.4L493.6 93.9M489.8 82.5L492.5 87.8L495.3 94.2M492.5 87.8L490.3 92.3" fill="none" stroke="#2e3192" stroke-width="0.7" stroke-opacity="1" stroke-linecap="round" stroke-linejoin="round"/>
<path d="M487.7 75.6L491.9 75.6L489.8 80.2Z" fill="#2e3192"/>
<path d="M499 77L496.8 76L494.8 74.8M494.8 74.8L493 74.5L491.1 74.4M491.1 74.4L490.2 75.2L489.1 75.5M491.1 74.4L490.3 73.3L489.3 72.4M494.8 74.8L494.1 73.5L493.3 72.2M493.3 72.2L492.5 71.7L491.6 71.2M493.3 72.2L493.1 71.4L493.2 70.5M499 77L497.5 75.1L496.6 72.9M496.6 72.9L495.5 72L494.2 71.6M494.2 71.6L493.1 71.6L492.1 71.7M494.2 71.6L493.5 70.7L492.7 69.9M496.6 72.9L497.3 71.5L497.4 69.9M497.4 69.9L496.7 69L496.6 67.8M497.4 69.9L498.3 69.2L499.1 68.2M497.5 75.1L497.1 74L496.9 72.8M499 77L498.4 74.7L499 72.4M499 72.4L498.6 70.5L498.7 68.6M498.7 68.6L498.5 67.5L498.3 66.3M498.7 68.6L499.5 67.4L500.2 66.2M499 72.4L500 71.4L501 70.3M501 70.3L501.3 69.5L501.6 68.8M501 70.3L501.7 70L502.6 69.9M499 77L499.8 74.7L500.8 72.6M500.8 72.6L500.6 70.9L500.6 69.3M500.6 69.3L500.1 68.3L499.5 67.5M500.6 69.3L501.3 68.4L501.8 67.4M500.8 72.6L501.7 71L503.1 69.8M503.1 69.8L503.8 69.1L504.1 68M503.1 69.8L504.1 69.5L505.1 69.5M499.8 74.7L500.9 74.2L502.1 74.1M499 77L501.3 76.4L503.1 74.8M503.1 74.8L503.3 73.4L503.1 72M503.1 72L502.3 71.3L501.9 70.3M503.1 72L503.5 71.1L503.9 70.1M503.1 74.8L504.8 74.1L506.5 73.7M506.5 73.7L507.2 72.9L507.8 72M506.5 73.7L507.5 73.8L508.5 73.8M501.3 76.4L502.1 75.5L502.9 74.6M499 77L499 83M499 82.5L496.5 88.2L493.6 95.2M496.5 88.2L498.7 92.7M499 82.5L497.9 89.8L497.4 99.3M497.9 89.8L495.7 94.3M499 82.5L499.4 90.4L499.9 101.7M499.4 90.4L501.6 94.9M499 82.5L500.6 89.4L501.9 98M500.6 89.4L502.8 93.9M499 82.5L501.7 87.8L504.4 94.8M501.7 87.8L503.9 92.3" fill="none" stroke="#2e3192" stroke-width="0.7" stroke-opacity="1" stroke-linecap="round" stroke-linejoin="round"/>
<path d="M496.9 75.6L501.1 75.6L499 80.2Z" fill="#2e3192"/>
<path d="M354.6 159.4L356.3 156.6L357.8 153.8M357.8 153.8L357.3 151.4L356.9 149M356.9 149L355.8 147.4L354.7 145.7M354.7 145.7L353.7 144.9L352.4 144.4M354.7 145.7L355.1 144.2L355.4 142.8M356.9 149L356.7 147.2L356.9 145.4M356.9 145.4L356.4 144.3L356.3 143.2M356.9 145.4L357.4 144L358.4 143M357.8 153.8L360 152.3L361.5 150.1M361.5 150.1L361.3 148.2L361.2 146.3M361.2 146.3L360.6 144.9L359.5 144M361.2 146.3L362.1 145.5L362.6 144.5M361.5 150.1L363 149.4L364.3 148.3M364.3 148.3L364.2 147L364.7 145.7M364.3 148.3L365.6 147.8L366.9 147.2M356.3 156.6L355.8 155.1L354.9 153.8M354.9 153.8L353.7 153.4L352.4 153.3M354.9 153.8L354.6 152.8L354.2 151.9M354.6 159.4L357.1 157.3L360.2 156.2M360.2 156.2L361.6 154.8L362.6 153.1M362.6 153.1L362.7 151.8L362.9 150.6M362.9 150.6L362.6 149.7L362 149M362.9 150.6L363.7 150L364 149.2M362.6 153.1L363.5 152.1L364.3 151.2M364.3 151.2L364.6 150.5L364.9 149.8M364.3 151.2L365 150.7L365.8 150.3M360.2 156.2L362.1 156.6L364 156.9M364 156.9L364.9 156L365.9 155.2M365.9 155.2L366.1 154.3L366.4 153.4M365.9 155.2L366.6 154.9L367.4 154.8M364 156.9L365.2 157.3L366.1 158.1M366.1 158.1L366.9 158.7L367.6 159.3M366.1 158.1L366.3 159L366.7 159.9M362.1 156.6L363 156.4L364 156.1M354.6 159.4L357.8 159.1L361 158.2M361 158.2L362.3 156.2L363.4 154M363.4 154L363.5 152.2L363.6 150.3M363.6 150.3L362.7 149.3L361.7 148.4M363.6 150.3L364.5 149.2L365.7 148.4M363.4 154L364.9 152.9L366.3 151.7M366.3 151.7L366.8 150.7L367.5 149.9M366.3 151.7L367.5 151.5L368.7 151.5M361 158.2L363.1 158.8L365.1 159.8M365.1 159.8L366.5 159.8L367.9 160.1M367.9 160.1L368.7 159.4L369.7 159.2M367.9 160.1L368.7 161L369.3 162M365.1 159.8L366.4 160.9L367.8 161.8M367.8 161.8L369 161.8L370.3 162.1M367.8 161.8L367.8 163L368.5 163.9M363.1 158.8L363.9 157.9L364.9 157.6M357.8 159.1L359.3 159.8L360.6 160.8M360.6 160.8L361.8 161.3L363.1 161.6M360.6 160.8L361.2 161.6L362 162.4M354.6 159.4L357.8 159.1L360.9 160.2M360.9 160.2L362.7 159.3L364.8 159.1M364.8 159.1L366 158.4L366.9 157.3M366.9 157.3L366.9 156.1L367.3 154.9M366.9 157.3L367.8 157.3L368.6 157M364.8 159.1L366 159.6L367.1 160.1M367.1 160.1L368.1 160.3L369.1 160.6M367.1 160.1L367.5 160.9L367.8 161.8M362.7 159.3L363 158.3L363.7 157.6M360.9 160.2L362.4 161.5L364 162.8M364 162.8L365.2 163.6L366.4 164.4M366.4 164.4L367.4 164.4L368.4 164.5M366.4 164.4L367 165.2L367.3 166.1M364 162.8L364.7 164.3L365.4 165.8M365.4 165.8L366.5 166.4L367.5 167.3M365.4 165.8L365.1 166.8L364.9 167.7M362.4 161.5L362.8 162.5L363.2 163.4M357.8 159.1L359.1 160.1L360.5 161M360.5 161L361.5 161L362.4 161.4M360.5 161L361.1 162.1L361.9 163M354.6 159.4L353.8 161.8L353.2 164.2M353.2 164.2L353.8 165.8L354.1 167.5M354.1 167.5L355.2 168.5L356.3 169.3M354.1 167.5L354 168.7L353.8 169.9M353.2 164.2L352 165.2L351.4 166.6M351.4 166.6L351.8 167.7L351.7 168.9M351.4 166.6L350.7 167.3L350.1 167.9M353.8 161.8L353.8 163L353.7 164.3M354.6 159.4L352.6 160.9L350.9 162.7M350.9 162.7L350.1 164.1L349.4 165.4M349.4 165.4L349.4 166.7L349.5 167.9M349.4 165.4L348.3 165.9L347.4 166.7M350.9 162.7L348.9 162.8L347 163.4M347 163.4L345.9 164.4L344.9 165.6M347 163.4L345.5 163.3L344 163.4M354.6 159.4L352.1 159.4L349.7 159.9M349.7 159.9L348.2 160.7L346.8 161.8M346.8 161.8L346.7 162.9L346.6 163.9M346.8 161.8L345.7 162.5L344.4 163M349.7 159.9L348.1 159.4L346.8 158.4M346.8 158.4L345.5 157.9L344.2 157.5M346.8 158.4L346.6 157.4L346.3 156.4M352.1 159.4L350.9 159L349.8 158.4M354.6 159.4L352.7 157.8L350.4 156.8M350.4 156.8L348.7 157L346.9 156.9M346.9 156.9L345.6 157.3L344.4 158M346.9 156.9L345.8 156.4L344.7 155.8M350.4 156.8L349.1 155.8L347.8 154.8M347.8 154.8L346.8 154.8L345.8 154.6M347.8 154.8L347.3 153.9L346.8 153" fill="none" stroke="#3f7ff5" stroke-width="0.6" stroke-opacity="1" stroke-linecap="round" stroke-linejoin="round"/>
<circle cx="354.6" cy="159.4" r="1.7" fill="#3f7ff5"/>
<path d="M363.3 169L362.6 165.8L361.7 162.7M361.7 162.7L361.1 160.9L359.8 159.5M359.8 159.5L358.6 158.9L357.3 158.4M357.3 158.4L356.5 158.8L355.7 158.9M357.3 158.4L356.7 157.8L356.4 157.1M359.8 159.5L359.8 158.1L359.7 156.7M359.7 156.7L359.1 155.9L358.8 155M359.7 156.7L359.9 155.6L360.4 154.7M361.1 160.9L360.3 160.6L359.6 159.9M361.7 162.7L362.8 160.3L363.7 157.9M363.7 157.9L363 156.6L363 155M363 155L362.4 154.2L361.7 153.4M363 155L363.4 154L363.9 153.1M363.7 157.9L364.7 156.5L366.1 155.4M366.1 155.4L367.1 154.5L367.5 153.1M366.1 155.4L367.3 155.1L368.5 155M362.8 160.3L362.5 159L362 157.8M362.6 165.8L363.3 164.4L363.6 162.8M363.6 162.8L363.2 161.7L362.5 160.6M363.6 162.8L364.6 162.1L365.5 161.5M363.3 169L363.8 165.8L365.7 163.1M365.7 163.1L365.8 161.1L366.3 159.2M366.3 159.2L366.1 157.8L366.1 156.5M366.1 156.5L365.6 155.7L364.8 155M366.1 156.5L366.5 155.8L367 155.2M366.3 159.2L367.2 158.4L367.5 157.3M367.5 157.3L367.1 156.4L366.7 155.6M367.5 157.3L368.4 156.8L369.1 156.1M365.7 163.1L368 162L370.2 160.6M370.2 160.6L371 159L371.6 157.4M371.6 157.4L370.9 156.3L370.4 155.1M371.6 157.4L372.7 156.7L373.8 156M370.2 160.6L372.1 160.6L374 161M374 161L375.4 160.7L376.7 160.3M374 161L375.1 161.8L376 162.8M368 162L368.8 160.9L368.9 159.6M363.3 169L365.8 166.9L368.2 164.7M368.2 164.7L368.5 162.7L368.8 160.6M368.8 160.6L368.5 159.4L367.9 158.3M367.9 158.3L367.2 157.5L366.5 156.8M367.9 158.3L367.7 157.3L367.6 156.2M368.8 160.6L370.1 159.6L371.1 158.2M371.1 158.2L371.3 157.3L371.4 156.3M371.1 158.2L372.3 157.8L373.5 157.4M368.5 162.7L369.3 162L370.1 161.3M368.2 164.7L370.1 164.3L372 164.4M372 164.4L373.4 163.8L374.8 163.4M374.8 163.4L375.6 162.8L376.2 162.1M374.8 163.4L375.7 163.6L376.5 164M372 164.4L372.9 165.3L373.8 166.1M373.8 166.1L374.8 166L375.8 165.9M373.8 166.1L374.4 167L374.8 167.9M363.3 169L366.5 168.2L369.6 167.3M369.6 167.3L371 165.6L372.2 163.7M372.2 163.7L372.3 162.1L372.8 160.6M372.8 160.6L372.9 159.3L372.9 158.1M372.8 160.6L374 160.1L375.3 159.6M372.2 163.7L374 163.3L375.8 162.9M375.8 162.9L376.6 162.2L377.4 161.4M375.8 162.9L377 163.2L378.2 163.3M371 165.6L372.1 165.3L373.2 165.5M369.6 167.3L372.2 167.6L374.5 168.8M374.5 168.8L376.1 169L377.7 169.2M377.7 169.2L378.7 169L379.7 169M377.7 169.2L378.7 169.9L379.8 170.4M374.5 168.8L376.2 170L377.2 171.8M377.2 171.8L378.5 172.7L379.7 173.7M377.2 171.8L377.4 173.2L378 174.3M366.5 168.2L367.6 169.4L368.8 170.5M368.8 170.5L369.8 171.1L370.9 171.7M368.8 170.5L369.2 171.7L369.5 172.9M363.3 169L363.6 171.5L364.3 173.9M364.3 173.9L366.1 174.7L367.7 176M367.7 176L368.9 176.5L370.2 177.1M367.7 176L367.8 177.5L368.3 178.8M364.3 173.9L363.9 175.3L363.4 176.7M363.4 176.7L363.5 177.9L363.5 179M363.4 176.7L362.6 177.3L361.8 177.7M363.3 169L361.9 171.1L360.4 173M360.4 173L360.3 174.6L360.3 176.2M360.3 176.2L360.6 177.3L361.1 178.2M360.3 176.2L359.4 177.1L358.5 178M360.4 173L358.6 173.8L356.7 174.5M356.7 174.5L355.8 175.7L355.1 176.9M356.7 174.5L355.2 174.5L353.8 174.6M363.3 169L361 170L359 171.5M359 171.5L358 172.9L357.1 174.3M357.1 174.3L356.8 175.5L356.6 176.7M357.1 174.3L356.2 174.5L355.2 174.8M359 171.5L357.3 171.7L355.7 171.9M355.7 171.9L355 173L354.2 173.9M355.7 171.9L354.5 171.9L353.4 171.6M361 170L360 169.3L359 168.5M363.3 169L360.9 169.5L358.5 170.4M358.5 170.4L357 171.7L355.7 173.2M355.7 173.2L355.7 174.4L355.7 175.6M355.7 173.2L354.6 173.7L353.5 174.3M358.5 170.4L356.6 170.1L354.8 169.4M354.8 169.4L353.7 170L352.5 170.5M354.8 169.4L353.7 168.7L352.7 168" fill="none" stroke="#3f7ff5" stroke-width="0.6" stroke-opacity="1" stroke-linecap="round" stroke-linejoin="round"/>
<circle cx="363.3" cy="169" r="1.7" fill="#3f7ff5"/>
<path d="M374 174.5L372.5 171.6L371.2 168.6M371.2 168.6L369.6 166.7L368 164.8M368 164.8L366.8 163.9L365.5 163.1M365.5 163.1L364.4 162.9L363.2 162.8M365.5 163.1L365.2 162.2L364.6 161.5M368 164.8L368.2 163.2L368.2 161.6M368.2 161.6L367.9 160.7L367.3 159.9M368.2 161.6L368.7 160.8L369.3 160.1M369.6 166.7L369.4 165.5L369.3 164.3M371.2 168.6L371 166.6L370.7 164.6M370.7 164.6L369.7 163.3L369.2 161.7M369.2 161.7L368.5 160.8L367.7 160M369.2 161.7L369.5 160.5L369.5 159.2M370.7 164.6L371.2 163.3L371.8 162.1M371.8 162.1L371.6 161.3L371.4 160.5M371.8 162.1L372.5 161.5L373.2 160.9M371 166.6L371.4 165.7L372.2 165.1M374 174.5L373.9 171.3L374.7 168.1M374.7 168.1L373.4 166.3L372.8 164.3M372.8 164.3L372 162.9L371.1 161.6M371.1 161.6L370.3 160.8L369.5 160.1M371.1 161.6L370.8 160.8L370.8 159.9M372.8 164.3L372.6 162.9L372.3 161.5M372.3 161.5L372 160.6L371.7 159.7M372.3 161.5L372.9 160.6L373 159.5M374.7 168.1L376.3 166.3L378 164.5M378 164.5L379 163L379.9 161.5M379.9 161.5L379.7 160.2L379.8 158.9M379.9 161.5L381.2 160.8L382.7 160.5M378 164.5L379.9 163.9L381.8 163.3M381.8 163.3L382.6 162.5L383.4 161.6M381.8 163.3L382.7 163.9L383.8 164.3M374 174.5L375.5 171.6L376.9 168.7M376.9 168.7L376.7 166L375.8 163.5M375.8 163.5L373.8 162.9L372.1 161.6M372.1 161.6L370.6 161.3L369 161.2M372.1 161.6L370.9 160.5L370.4 158.9M375.8 163.5L375.7 161.7L375.8 160M375.8 160L375.1 159.1L374.2 158.4M375.8 160L376.3 158.9L376.9 157.8M376.9 168.7L378.5 166.7L380.6 165.3M380.6 165.3L381.3 163.7L382.2 162.2M382.2 162.2L382.3 161.2L382.2 160.2M382.2 162.2L383.4 161.7L384.5 160.9M380.6 165.3L382.1 165.1L383.6 164.9M383.6 164.9L384.5 164.2L385.4 163.6M383.6 164.9L384.8 165.1L385.9 165.5M375.5 171.6L377 170.9L378.3 170M378.3 170L378.9 168.9L379.6 167.9M378.3 170L379.6 169.9L380.9 169.9M374 174.5L375.9 171.9L377.9 169.3M377.9 169.3L378 167L378.5 164.8M378.5 164.8L377.9 163.3L377.2 161.9M377.2 161.9L376.1 161.6L375.1 161.3M377.2 161.9L377.3 160.8L377.7 159.8M378.5 164.8L379.3 163.3L380.6 162.2M380.6 162.2L381.3 161L381.6 159.6M380.6 162.2L381.7 161.9L382.7 161.4M378 167L378.8 166.1L379.3 165.2M377.9 169.3L380.1 167.9L381.8 165.9M381.8 165.9L381.6 164L381.5 162.1M381.5 162.1L380.7 161.2L380.1 160.1M381.5 162.1L381.7 160.8L381.9 159.5M381.8 165.9L383.5 165.1L385.1 164.1M385.1 164.1L385.8 162.8L387.1 161.9M385.1 164.1L386.5 164.1L387.8 163.5M374 174.5L375.1 176.8L376.5 178.8M376.5 178.8L377.9 179.3L379.2 180M379.2 180L380 180.2L380.9 180.5M379.2 180L379.2 180.9L379.5 181.7M376.5 178.8L376.9 180.2L377.5 181.6M377.5 181.6L378.5 182.1L379.4 182.6M377.5 181.6L377.5 182.7L377.4 183.8M375.1 176.8L374.5 177.9L374.2 179.1M374 174.5L374.5 176.9L374.2 179.4M374.2 179.4L375 181.3L376.4 182.8M376.4 182.8L377.6 183.6L378.9 184.1M376.4 182.8L376.8 184.1L377.6 185.2M374.2 179.4L373.4 181L372.6 182.6M372.6 182.6L372.5 183.6L372.3 184.6M372.6 182.6L371.7 183.3L370.7 183.8M374 174.5L372.6 176.6L371.2 178.6M371.2 178.6L370.6 180L370.5 181.4M370.5 181.4L371 182.3L371.1 183.2M370.5 181.4L369.9 182.1L369.3 182.7M371.2 178.6L370.2 179.7L368.9 180.3M368.9 180.3L368.2 181.1L367.7 181.9M368.9 180.3L367.9 180L366.9 180M372.6 176.6L371.5 177.2L370.4 177.7M374 174.5L371.8 175.7L369.4 176.5M369.4 176.5L368 177.7L366.3 178.5M366.3 178.5L365.9 179.5L365.3 180.5M366.3 178.5L365 178.8L363.8 179.3M369.4 176.5L367.7 176.1L366 176.2M366 176.2L365.2 177.1L364.4 178.1M366 176.2L365 176.1L364.2 175.4" fill="none" stroke="#3f7ff5" stroke-width="0.6" stroke-opacity="1" stroke-linecap="round" stroke-linejoin="round"/>
<circle cx="374" cy="174.5" r="1.7" fill="#3f7ff5"/>
<g font-size="11.1" fill="#333" text-anchor="middle"><text x="382" y="99.3" transform="rotate(-20.2 382 99.3)">S</text><text x="388.1" y="97.1" transform="rotate(-19.4 388.1 97.1)">c</text><text x="393.6" y="95.2" transform="rotate(-18.6 393.6 95.2)">h</text><text x="399.5" y="93.3" transform="rotate(-17.8 399.5 93.3)">a</text><text x="403.9" y="91.9" transform="rotate(-17.3 403.9 91.9)">f</text><text x="406.8" y="91" transform="rotate(-16.9 406.8 91)">f</text><text x="411.3" y="89.6" transform="rotate(-16.4 411.3 89.6)">e</text><text x="416" y="88.3" transform="rotate(-15.8 416 88.3)">r</text><text x="423.4" y="86.2" transform="rotate(-15 423.4 86.2)">c</text><text x="429.1" y="84.7" transform="rotate(-14.4 429.1 84.7)">o</text><text x="433.3" y="83.7" transform="rotate(-13.9 433.3 83.7)">l</text><text x="435.7" y="83.1" transform="rotate(-13.7 435.7 83.1)">l</text><text x="439.9" y="82.1" transform="rotate(-13.3 439.9 82.1)">a</text><text x="444.4" y="81" transform="rotate(-12.8 444.4 81)">t</text><text x="448.9" y="80" transform="rotate(-12.4 448.9 80)">e</text><text x="453.7" y="79" transform="rotate(-11.9 453.7 79)">r</text><text x="458.6" y="78" transform="rotate(-11.5 458.6 78)">a</text><text x="462.8" y="77.1" transform="rotate(-11.1 462.8 77.1)">l</text><text x="466.7" y="76.4" transform="rotate(-10.8 466.7 76.4)">s</text></g>
<text x="390.7" y="159.8" font-size="11.2" text-anchor="start" font-weight="normal" font-style="normal" fill="#333" transform="rotate(-13 390.7 159.8)" >Mossy fibers</text>
<text x="580.5" y="152.8" font-size="11.3" text-anchor="start" font-weight="normal" font-style="normal" fill="#333" transform="rotate(17.3 580.5 152.8)" >Perforant Path</text>
<text x="637.6" y="119.8" font-size="12.3" text-anchor="start" font-weight="normal" font-style="normal" fill="#333" >Efferents</text>
<text x="334.3" y="181.2" font-size="12.2" text-anchor="start" font-weight="bold" font-style="normal" fill="#000" >CA3</text>
<text x="431.7" y="131.3" font-size="12" text-anchor="start" font-weight="bold" font-style="normal" fill="#000" >DG</text>
<text x="504.9" y="69.4" font-size="11.6" text-anchor="start" font-weight="bold" font-style="normal" fill="#000" >CA1</text>
<text x="120.5" y="61" font-size="14" text-anchor="start" font-weight="normal" font-style="normal" fill="#111" >NSC</text>
<text x="163.6" y="61" font-size="14" text-anchor="start" font-weight="normal" font-style="normal" fill="#111" >GC</text>
<text x="215" y="61" font-size="14" text-anchor="start" font-weight="normal" font-style="normal" fill="#111" >Interneuron</text>
<text x="145.6" y="157.1" font-size="14" text-anchor="start" font-weight="normal" font-style="normal" fill="#111" >CA pyramidal neuron</text>
<path d="M134.9 87.5L131.1 86.2L128 83.7M128 83.7L125.7 83L123.4 82.2M123.4 82.2L122.2 82.8L120.8 83.2M120.8 83.2L120.3 84.1L119.8 85M120.8 83.2L120 82.7L119.1 82.2M123.4 82.2L122.1 81.2L121.1 79.9M121.1 79.9L120.4 79.2L119.6 78.5M121.1 79.9L121 78.8L120.9 77.7M128 83.7L126.8 81.8L125.5 80M125.5 80L124 79.5L122.5 79.1M122.5 79.1L121.6 79L120.6 78.8M122.5 79.1L122.1 78.1L121.6 77.1M125.5 80L125.2 78.3L125.2 76.6M125.2 76.6L124.7 75.4L124.5 74.2M125.2 76.6L125.7 75.5L126.2 74.4M131.1 86.2L129.3 87L127.6 88.1M127.6 88.1L127.2 89.4L126.5 90.5M127.6 88.1L126.1 88.4L124.6 88.5M134.9 87.5L131.8 84.5L129.5 80.9M129.5 80.9L126.8 79.2L123.6 78.3M123.6 78.3L121.3 78.7L119.1 79.3M119.1 79.3L118.1 80.1L117.3 81.2M119.1 79.3L117.8 79L116.5 78.4M123.6 78.3L121.9 76.7L120.2 75.2M120.2 75.2L118.8 75L117.3 75M120.2 75.2L119.3 73.9L118.8 72.4M126.8 79.2L126.7 77.6L126.5 75.9M129.5 80.9L129.1 78.5L128.9 76.2M128.9 76.2L128.4 74.6L127.8 73M127.8 73L126.8 72.4L125.8 71.6M127.8 73L127.9 71.9L127.9 70.8M128.9 76.2L129.6 74.8L130.7 73.8M130.7 73.8L131 72.9L131.5 72.1M130.7 73.8L131.7 73.7L132.6 73.3M129.1 78.5L129.6 77.4L129.9 76.3M131.8 84.5L131 82.5L130.5 80.4M130.5 80.4L129.7 79.4L129.2 78.2M130.5 80.4L130.7 78.9L130.7 77.3M134.9 87.5L133 83.3L131 79.2M131 79.2L128.7 77.7L126.3 76.6M126.3 76.6L124.6 76.3L123 76.5M123 76.5L122 77.3L121.2 78.2M123 76.5L122 76.2L121 75.9M126.3 76.6L125.3 74.8L124 73.4M124 73.4L123.1 72.5L122.2 71.6M124 73.4L124.1 72.2L123.9 71.1M128.7 77.7L127.4 77.7L126 77.8M131 79.2L132.3 76.1L132.6 72.8M132.6 72.8L131.5 70.9L130.6 68.8M130.6 68.8L129.5 67.9L128.3 67.2M130.6 68.8L130.4 67.4L130.8 66M132.6 72.8L134.2 71.6L135.5 70M135.5 70L135.9 68.6L136 67.2M135.5 70L136.8 69.8L137.9 69M132.3 76.1L133.7 75.2L135.2 74.5M133 83.3L131.3 81.8L129.3 80.5M129.3 80.5L127.9 80.2L126.5 80.1M129.3 80.5L128.7 79.1L128.6 77.5M134.9 87.5L136 83L136.5 78.5M136.5 78.5L135.4 75.7L134.5 72.8M134.5 72.8L133.4 71.4L132.4 69.9M132.4 69.9L131.4 69L130.2 68.4M132.4 69.9L131.9 69L131.7 67.9M134.5 72.8L134.7 70.7L134.3 68.6M134.3 68.6L133.1 67.8L132 66.8M134.3 68.6L134.3 67.2L134.6 65.8M136.5 78.5L138 76L139.5 73.6M139.5 73.6L139.5 71.8L139.9 70.1M139.9 70.1L139.7 68.8L139.1 67.7M139.9 70.1L140.9 69.3L141.7 68.2M139.5 73.6L140.9 72L142.7 70.9M142.7 70.9L143.3 69.9L143.6 68.7M142.7 70.9L144.2 71L145.5 70.5M134.9 87.5L138.1 84.7L141.2 81.7M141.2 81.7L142.3 79.2L143.7 77M143.7 77L144.1 75.6L144.6 74.3M144.6 74.3L144.8 73.3L145 72.3M144.6 74.3L145.6 73.7L146.5 72.9M143.7 77L144.9 75.6L146.3 74.4M146.3 74.4L146.8 73.1L147.6 72M146.3 74.4L147.7 74.5L149.1 74.1M142.3 79.2L142.1 77.9L141.7 76.7M141.2 81.7L143.6 80.6L146 79.8M146 79.8L146.9 78.6L148.1 77.7M148.1 77.7L148.4 76.8L148.8 76M148.1 77.7L149.3 77.9L150.3 77.4M146 79.8L148 80L149.7 80.9M149.7 80.9L151.1 81.4L152.5 82M149.7 80.9L150 82L150.3 83M143.6 80.6L144.6 81.3L145.9 81.6M134.9 87.5L137.7 84.7L141.2 82.7M141.2 82.7L143.4 81L145.2 78.9M145.2 78.9L145.6 76.8L145.8 74.8M145.8 74.8L145.4 73.5L145.2 72.3M145.8 74.8L146.9 74L147.6 72.8M145.2 78.9L146.8 78.7L148.1 77.9M148.1 77.9L148.8 77.2L149.5 76.4M148.1 77.9L149 77.7L149.9 77.8M143.4 81L144.8 81.5L146.1 81.3M141.2 82.7L144.2 82.8L147 81.6M147 81.6L147.9 79.7L148.9 78M148.9 78L148.9 76.8L149 75.7M148.9 78L149.9 77.3L151 76.6M147 81.6L148.5 82.5L150.2 82.4M150.2 82.4L151.2 81.9L152.2 81.6M150.2 82.4L151.2 82.8L152.1 83.2M137.7 84.7L139.6 84L141.6 83.8M141.6 83.8L142.9 82.9L144 81.8M141.6 83.8L143 84.3L144.5 84.3" fill="none" stroke="#a7a9ac" stroke-width="0.8" stroke-opacity="1" stroke-linecap="round" stroke-linejoin="round"/>
<path d="M135.2 88 C134 96 132.8 100 133.3 106 C133.6 112 135 116 135.6 120 C140 121.5 144 123.5 144.2 125.2 C144 127.6 126.5 127.6 126 125.2 C126.2 123.5 130.5 121.5 134 120 C133.2 116 131.8 112 131.6 106 C131.4 100 133 96 134.3 88 Z" fill="#a7a9ac"/>
<path d="M174.1 87.5L171.4 84.6L167.9 83.1M167.9 83.1L165.3 82.7L162.7 82.3M162.7 82.3L161.2 82.7L159.8 83.3M159.8 83.3L158.8 83.7L157.9 84.2M159.8 83.3L158.8 83.3L157.8 83.1M162.7 82.3L161.1 81.3L160 79.8M160 79.8L159 79L158 78.5M160 79.8L159.7 78.6L159.2 77.5M167.9 83.1L165.7 82L163.8 80.5M163.8 80.5L162.2 80.4L160.5 80.3M160.5 80.3L159.5 80.8L158.6 81.4M160.5 80.3L159.6 80L158.8 79.4M163.8 80.5L163.2 78.8L162.4 77.2M162.4 77.2L161.3 76.5L160.2 76M162.4 77.2L162.5 75.8L162.3 74.5M174.1 87.5L171.1 84.5L168.2 81.5M168.2 81.5L165.3 80.5L162.2 80.3M162.2 80.3L160.5 81.3L158.8 82.2M158.8 82.2L157.9 83.3L156.8 84M158.8 82.2L157.5 82.9L156.1 83.2M162.2 80.3L160.6 79.4L159.3 78.3M159.3 78.3L158 77.7L156.7 77.1M159.3 78.3L159 77.2L158.7 76M168.2 81.5L166.4 78.8L164.2 76.3M164.2 76.3L162.3 75.2L160.2 75.1M160.2 75.1L159 75.1L157.8 75.4M160.2 75.1L159.1 74.2L158.1 73.2M164.2 76.3L163.3 74.1L162.7 71.7M162.7 71.7L161.7 70.6L160.8 69.4M162.7 71.7L162.8 70.3L162.8 68.9M166.4 78.8L164.8 78.3L163.2 78M174.1 87.5L172.9 83.2L170.7 79.2M170.7 79.2L168.6 77.7L166.6 75.9M166.6 75.9L165.2 75.2L163.9 74.4M163.9 74.4L163 74.6L162 74.8M163.9 74.4L163.4 73.7L162.7 73.1M166.6 75.9L166.2 74.1L165.6 72.5M165.6 72.5L164.9 71.6L164.3 70.7M165.6 72.5L165.6 71L165.4 69.6M168.6 77.7L167.3 78L165.9 78M170.7 79.2L170.4 76L169.4 73M169.4 73L167.8 71.9L166.5 70.6M166.5 70.6L165.2 70.1L164.2 69.3M166.5 70.6L165.8 69.3L165.4 67.9M169.4 73L169.2 70.7L169.1 68.4M169.1 68.4L168.6 66.7L167.8 65.2M169.1 68.4L169.6 67L170.3 65.7M170.4 76L168.9 75.4L167.6 74.6M172.9 83.2L173.8 81.1L175 79.2M175 79.2L174.8 77.5L175.1 75.8M175 79.2L176.2 78.5L177 77.4M174.1 87.5L173.5 82.8L174.5 78.2M174.5 78.2L174.6 75.5L173.8 72.8M173.8 72.8L172.3 71.9L171 70.7M171 70.7L169.7 70.2L168.4 69.6M171 70.7L170.6 69.8L170.3 68.8M173.8 72.8L173.7 70.9L173.8 68.9M173.8 68.9L173.3 67.8L172.8 66.8M173.8 68.9L174.4 67.7L175.4 66.8M174.5 78.2L176.2 75.7L177.9 73.2M177.9 73.2L178.3 71.1L178.2 69.1M178.2 69.1L177.9 67.8L177.2 66.9M178.2 69.1L178.8 67.5L179.2 65.9M177.9 73.2L180.1 72.1L182 70.6M182 70.6L182.8 68.9L183.9 67.4M182 70.6L183.7 70.4L185.5 70.2M174.1 87.5L176.3 83.5L177.9 79.4M177.9 79.4L177.8 76.8L177.9 74.3M177.9 74.3L177.4 72.3L176.2 70.7M176.2 70.7L174.9 70.4L173.6 70M176.2 70.7L176.1 69.4L176.1 68.1M177.9 74.3L178.1 72.6L178.2 71M178.2 71L178.1 69.6L177.6 68.4M178.2 71L178.7 70L179.1 68.9M177.8 76.8L178.8 75.9L179.7 75.1M177.9 79.4L180.2 78.1L182.2 76.3M182.2 76.3L183 74.9L183.2 73.4M183.2 73.4L182.7 72.3L182.4 71.1M183.2 73.4L183.7 72.3L184.2 71.1M182.2 76.3L184.1 76L185.9 75.2M185.9 75.2L186.9 74.5L187.8 73.8M185.9 75.2L187.2 75.7L188.7 75.9M174.1 87.5L177.2 84.6L180.3 81.9M180.3 81.9L182.2 79.3L183.6 76.5M183.6 76.5L184.4 74.5L184.3 72.4M184.3 72.4L183.3 71.1L182.3 69.8M184.3 72.4L185.4 71.1L186.2 69.7M183.6 76.5L185.2 75.4L186.4 73.9M186.4 73.9L186.6 72.6L186.9 71.3M186.4 73.9L187.4 73.6L188.4 73.1M180.3 81.9L183.4 81.7L186.4 81.8M186.4 81.8L188.2 80.5L190 79.1M190 79.1L190.8 77.5L191.7 76.1M190 79.1L191.3 77.9L192.7 76.8M186.4 81.8L187.9 82.7L189.6 83.1M189.6 83.1L190.5 82.7L191.5 82.6M189.6 83.1L190.5 84.2L191.1 85.5M183.4 81.7L184.8 82.2L186 83.2M174.1 87.5L177.4 85.4L181.1 84.1M181.1 84.1L182.7 82L184.1 79.9M184.1 79.9L184.9 78.2L185.7 76.5M185.7 76.5L185.5 75.2L185.6 73.7M185.7 76.5L186.7 75.9L187.2 75M184.1 79.9L185.2 78.8L186.5 78M186.5 78L186.9 77.1L187.4 76.3M186.5 78L187.7 78.2L188.8 78M181.1 84.1L184 84.6L186.9 84.3M186.9 84.3L188.6 83.1L190.3 81.9M190.3 81.9L190.5 80.8L191.1 79.7M190.3 81.9L191.7 81.9L193.1 82M186.9 84.3L189 85.3L191.2 85.7M191.2 85.7L192.5 85.4L193.7 85.2M191.2 85.7L192.4 86.6L193.7 87.2M184 84.6L185.3 84L186.7 83.4" fill="none" stroke="#29abe2" stroke-width="0.8" stroke-opacity="1" stroke-linecap="round" stroke-linejoin="round"/>
<path d="M174.1 87.5L174.1 100" stroke="#29abe2" stroke-width="1.2" fill="none"/>
<circle cx="174.1" cy="102.4" r="4.2" fill="#29abe2"/>
<path d="M174.1 106 C174.3 112 174.6 116 173.6 120.5 C172.5 126 169.5 130.5 165 132.3 C161.5 133.4 158.5 133.6 155.7 133.6" stroke="#29abe2" stroke-width="1" fill="none" stroke-linecap="round"/>
<path d="M240.8 95.4L238 88L234.5 83L231.7 79.2L226 76.6M235.5 84.5L229 81.5L226.6 81L223.4 84.9M231.7 79.2L232.5 76.2M238 88L237.2 82L236.8 77.2M240.8 95.4L243.7 90.5L245 83L243.8 80.5L242.5 77.9L242.5 73.4M245 83L247.2 80L248.2 77.2L249 75.5M242.5 77.9L241.4 75.5M243.8 80.5L245.8 79.3M240.8 95.4L233 95L227 94.2L223.4 93.7M240.8 95.4L234.2 97.5L229 97.8L226.6 98.2M233 95L229.5 92.8M240.8 95.4L235.5 100L227 102L219.6 104.5M236.8 100.7L229.2 107L225 109.4L222.2 110.8M230.4 106.4L229.8 112.1M227 102L225 100.8M240.8 95.4L245 98.5L250.7 100.7L257 99.8L263.4 98.8L269 96.8L274.8 94.4M265.9 97.5L269 92L272.2 85.5M263.4 98.8L268.5 100.3L273.5 102M269 96.8L272 97.4L275.3 96.4M269.5 91L274.8 93M250.7 100.7L253.5 103.5L255.8 107L259.6 108.3L265.9 109.6L270 113.5L273.5 118.4M259.6 105.8L266 107.2L273.5 109.6M265.9 109.6L271 112L275.3 116.5M255 104.5L263 105.5L268 108M255.8 107L256.8 112L258.3 115.9L260.5 118.8L262.1 121M258.3 115.9L258 120.5L259.6 123.5M260.5 118.8L263.5 120L265.8 122.6M259 117L261.5 116.8" fill="none" stroke="#f7941e" stroke-width="0.8" stroke-opacity="1" stroke-linecap="round" stroke-linejoin="round"/>
<circle cx="240.8" cy="95.4" r="3.2" fill="#f7941e"/>
<path d="M176.5 205.8L176.5 200L176.5 195M176.5 195L172.5 189.5L168.8 183.5L167.5 179.5L165.9 178.6M168.8 183.5L167 182.5L164.5 181.5M167.5 179.5L168.2 177.2M176.5 195L176 184L175.6 173.8L175.2 168L175 163M175.6 173.8L177.8 170.5L178.8 166.5M176 182L178.5 176L181 169.5M175.2 168L173.8 164.8M176.5 195L181.5 194.5L183.5 191L186.2 187.4L190 184.5L194 182.5L200 184.8L205.6 185.4M194 182.5L196.5 179.5L198.9 176.7L200.5 176.2M190 184.5L191.5 180L192.3 175.5M196.5 179.5L199.5 181M176.5 205.8L171 206.5L165 207.7L159.5 209L154.2 210.6M165 207.7L160 206.2L156.5 207M159.5 209L157 212.5L155.5 215M167 207.5L163 212L158.5 218M176.5 205.8L173.5 209L171.7 212.6L170 217L168.8 220.3M171.7 212.6L168.5 215.5M174 208.5L173.5 216L172.5 222M176.5 205.8L178.5 210L179.5 214.5L178.5 220L178.5 226M179.5 214.5L182.5 219L183.5 224L183 227.5M178.5 220L176.5 224L176 227M181 217L185.5 221L187.5 225.5M176.5 205.8L181 208.5L186.2 212.6L187.5 217L188 222M186.2 212.6L190 216L191.5 219.5M176.5 205.8L182 206.5L186.2 206.8L191 208.5L196 209.7L196.5 212.5L196 215.5M191 208.5L193 212L193.5 216M196 209.7L198.5 209.3" fill="none" stroke="#6aa5f8" stroke-width="0.8" stroke-opacity="1" stroke-linecap="round" stroke-linejoin="round"/>
<path d="M174 207.6L176.5 201.8L179 207.6Z" fill="#6aa5f8"/>
<path d="M235.7 187.4L231.5 184.5L227 181.5L221 180.5L215.3 180.6M221 180.5L218 178L215.5 177.5M222.5 180.8L219 183L216.5 184M230 183.5L228 178L226 173L225 168M226 173L223.5 170.5L221.5 169.5M227.2 176L224 175.5M235.7 187.4L234.5 182.5L232.8 176.7L231.5 173L230.9 169M232.8 176.7L234.5 172L236 168.5M231.5 173L229.5 171M235.7 187.4L239 184L242.5 180.6L247 176.5L252.2 172.8M242.5 180.6L240.8 176L240.2 172.5M240.5 182.6L239.8 178L240.6 175.8M235.7 187.4L240.5 186.2L246.4 183.5L251 181L256 178.6M251 181L253.5 177.5L255.5 176.2M251 181L254 182.3L256.5 182M246.4 183.5L249.5 179.5M235.7 187.4L235.7 193L235.7 198M235.7 198L231 201.5L227 204.8L224 207.8L221.2 210.6L215 210.2L208.5 209.7M221.2 210.6L218.5 214L216.3 216.5M224 207.8L221.5 213L220 217.5M215 210.2L212 212.8M235.7 198L236.3 203L236.7 208.7L234.5 215L232.8 220.3L232 223.5M236.7 208.7L238.5 216L240 222L240.5 228M234.5 215L233.5 222L234 226.5M238.5 216L237 222.5M235.7 198L240 201.5L244.4 205.8L246.5 207.8L248.3 209.7L249.5 212M246.5 207.8L245.5 211L246.2 213.5M244.4 205.8L247.5 206L250 207.6" fill="none" stroke="#2e3192" stroke-width="0.8" stroke-opacity="1" stroke-linecap="round" stroke-linejoin="round"/>
<path d="M232.9 186L238.5 186L235.7 192Z" fill="#2e3192"/><path d="M235.7 187.4L235.7 198" stroke="#2e3192" stroke-width="1.3"/></svg>
</body></html>
